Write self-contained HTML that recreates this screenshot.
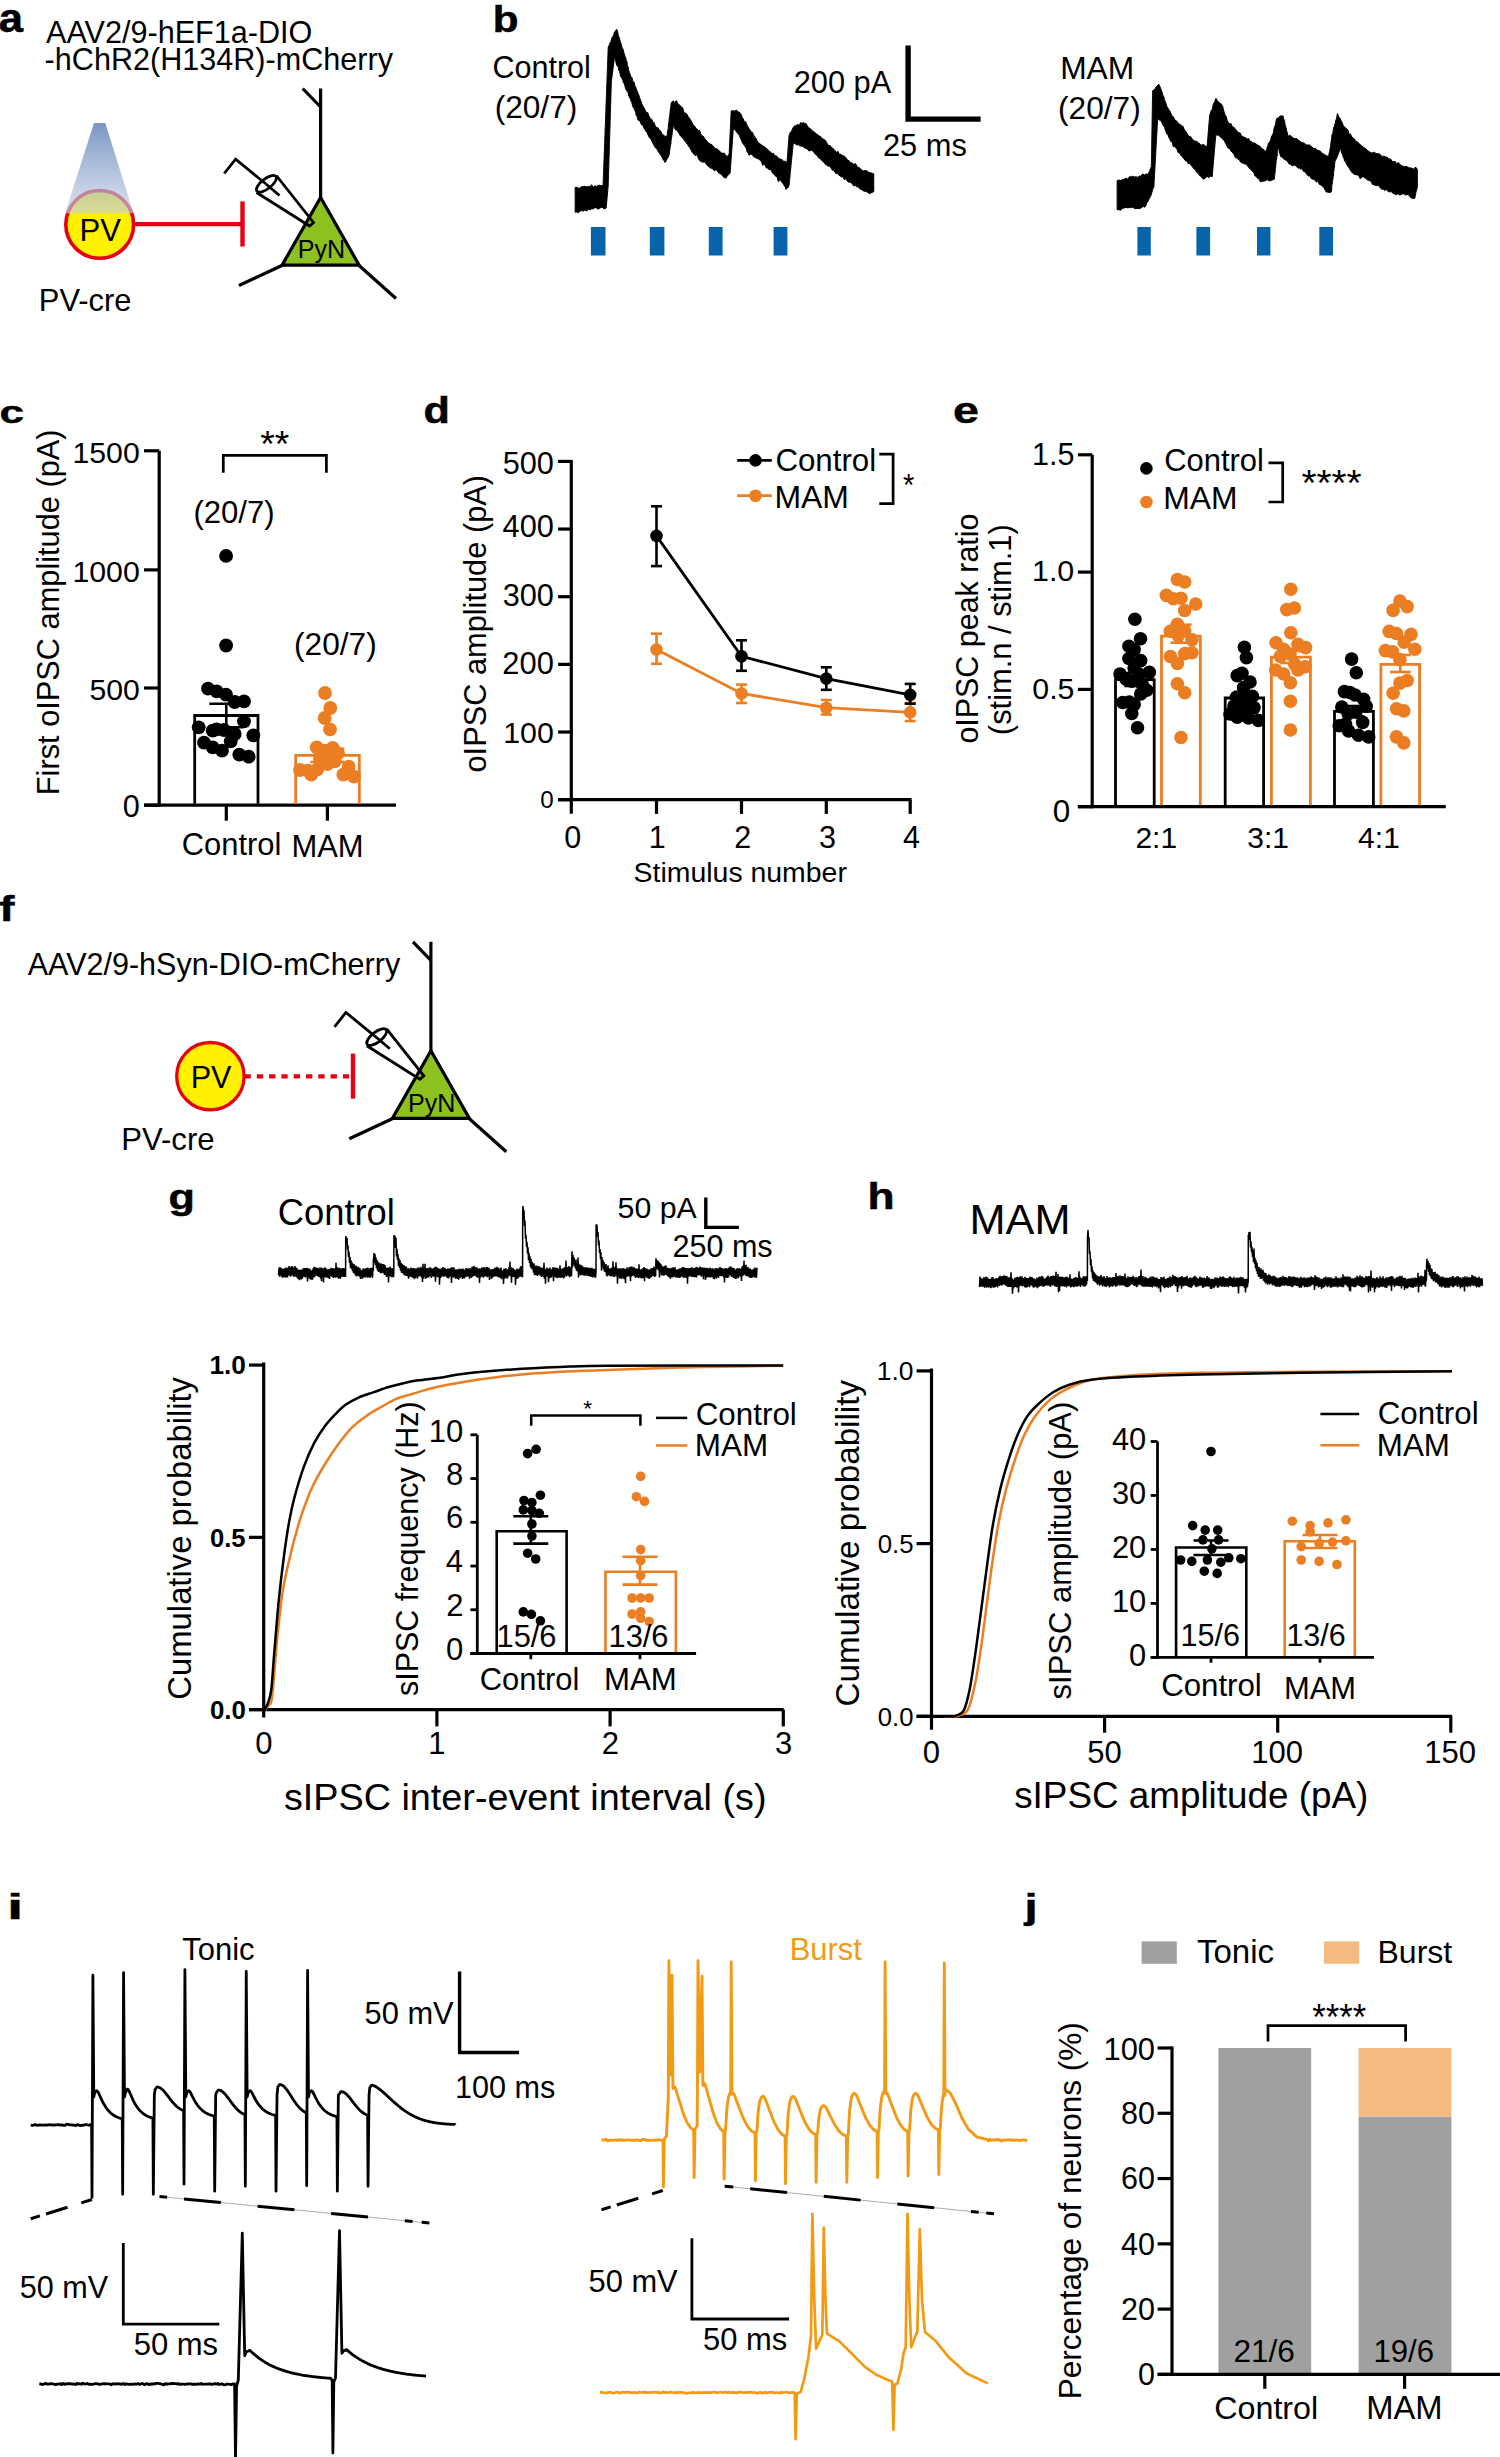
<!DOCTYPE html>
<html><head><meta charset="utf-8"><style>
html,body{margin:0;padding:0;background:#fff;}
svg{display:block;}
text{font-family:"Liberation Sans",sans-serif;}
</style></head><body>
<svg width="1500" height="2457" viewBox="0 0 1500 2457">
<rect width="1500" height="2457" fill="#fff"/>
<defs><linearGradient id="cone" x1="0" y1="0" x2="0" y2="1"><stop offset="0" stop-color="#6283B9"/><stop offset="1" stop-color="#C7D1E6" stop-opacity="0.75"/></linearGradient></defs><text transform="translate(-1.31,31.89) scale(0.04355,0.04055)" x="0" y="0" font-size="1000" font-weight="bold" fill="#000" stroke="#000" stroke-width="13.8">a</text><text x="46.00" y="43.00" font-size="30.60" fill="#000">AAV2/9-hEF1a-DIO</text><text x="44.62" y="70.00" font-size="30.59" fill="#000">-hChR2(H134R)-mCherry</text><circle cx="99.70" cy="224.40" r="33.9" fill="#FFF100" stroke="#E50012" stroke-width="3.6"/><text x="79.51" y="240.70" font-size="31.08" fill="#000">PV</text><polygon points="94.00,122.90 105.30,122.90 133.60,213.30 65.00,213.30" fill="url(#cone)" fill-opacity="0.85"/><line x1="134.00" y1="224.20" x2="242.50" y2="224.20" stroke="#E50012" stroke-width="4.2"/><line x1="242.50" y1="201.40" x2="242.50" y2="246.50" stroke="#E50012" stroke-width="4.4"/><line x1="320.60" y1="88.50" x2="320.60" y2="198.00" stroke="#000" stroke-width="3.2"/><line x1="302.70" y1="88.50" x2="320.60" y2="107.00" stroke="#000" stroke-width="3.2"/><line x1="283.00" y1="265.00" x2="239.00" y2="285.50" stroke="#000" stroke-width="3.2"/><line x1="358.50" y1="265.00" x2="396.00" y2="298.50" stroke="#000" stroke-width="3.2"/><polygon points="320.60,197.50 282.10,265.10 359.10,265.10" fill="#8CC11F" stroke="#000" stroke-width="3.2" stroke-linejoin="miter"/><polyline points="224.20,173.50 235.60,159.20 266.00,184.00" fill="none" stroke="#000" stroke-width="2.8" stroke-linejoin="miter"/><polyline points="276.30,175.50 313.50,222.50 309.50,226.00 256.50,192.50" fill="none" stroke="#000" stroke-width="2.8" stroke-linejoin="miter"/><ellipse cx="266.40" cy="183.80" rx="5" ry="12" transform="rotate(52 266.40 183.80)" fill="none" stroke="#000" stroke-width="2.8"/><line x1="266.00" y1="184.00" x2="279.50" y2="195.50" stroke="#000" stroke-width="2.8"/><text x="297.69" y="258.20" font-size="25.10" fill="#000">PyN</text><text x="38.83" y="310.70" font-size="30.85" fill="#000">PV-cre</text><text transform="translate(492.76,31.54) scale(0.04218,0.03646)" x="0" y="0" font-size="1000" font-weight="bold" fill="#000" stroke="#000" stroke-width="14.2">b</text><text x="492.47" y="78.40" font-size="30.53" fill="#000">Control</text><text x="494.70" y="117.80" font-size="31.61" fill="#000">(20/7)</text><text x="793.66" y="92.90" font-size="30.77" fill="#000">200 pA</text><text x="882.96" y="155.50" font-size="30.80" fill="#000">25 ms</text><polyline points="908.10,45.60 908.10,119.10 980.60,119.10" fill="none" stroke="#000" stroke-width="5.4" stroke-linecap="butt" stroke-linejoin="miter"/><polygon points="575.17,187.39 576.81,187.30 578.45,188.23 580.09,188.01 581.73,186.50 583.37,186.54 585.01,186.24 586.65,186.99 588.29,186.37 589.94,186.89 591.58,184.70 593.22,187.31 594.86,185.85 596.50,186.35 598.14,185.58 599.78,185.26 601.42,185.82 603.06,185.32 603.12,183.71 603.18,182.10 603.24,180.49 603.30,178.88 603.37,177.27 603.43,175.66 603.49,174.05 603.55,172.44 603.61,170.83 603.67,169.22 603.73,167.61 603.79,166.00 603.85,164.39 603.91,162.78 603.97,161.17 604.03,159.56 604.09,157.95 604.15,156.34 604.21,154.73 604.27,153.12 604.33,151.51 604.39,149.90 604.45,148.29 604.51,146.68 604.57,145.07 604.63,143.46 604.69,141.85 604.75,140.24 604.81,138.63 604.87,137.02 604.93,135.41 604.99,133.80 605.05,132.19 605.11,130.58 605.17,128.97 605.23,127.36 605.29,125.75 605.35,124.14 605.41,122.53 605.47,120.92 605.53,119.31 605.59,117.70 605.65,116.09 605.71,114.48 605.77,112.87 605.83,111.26 605.89,109.65 605.95,108.04 606.01,106.43 606.07,104.82 606.13,103.21 606.19,101.60 606.25,99.99 606.31,98.38 606.37,96.77 606.43,95.16 606.49,93.55 606.55,91.94 606.61,90.33 606.67,88.72 606.73,87.11 606.79,85.50 606.85,83.89 606.91,82.28 606.97,80.67 607.03,79.06 607.09,77.45 607.15,75.84 607.21,74.23 607.27,72.62 607.33,71.01 607.39,69.40 607.45,67.79 607.51,66.18 607.57,64.57 607.63,62.96 607.69,61.35 607.75,59.74 607.81,58.13 607.87,56.52 607.93,54.91 607.99,53.30 608.05,51.69 608.11,50.09 608.17,48.48 608.23,46.87 608.92,46.06 609.61,43.78 610.30,42.35 610.99,41.56 611.68,38.85 612.36,36.87 613.05,36.93 613.74,34.62 614.43,32.15 615.12,31.58 615.81,30.39 616.50,29.30 617.01,29.96 617.53,31.33 618.05,34.17 618.56,36.48 619.08,37.19 619.60,38.39 620.11,40.91 620.63,42.79 621.15,43.59 621.66,45.88 622.18,47.89 622.70,48.51 623.21,49.64 623.73,52.18 624.25,53.71 624.76,55.13 625.19,57.56 625.62,57.20 626.05,59.25 626.49,60.66 626.92,61.49 627.35,64.53 627.78,66.40 628.21,66.94 628.64,70.19 629.07,71.29 629.50,72.68 629.93,73.73 630.62,75.66 631.31,77.71 632.00,77.49 632.69,80.65 633.37,82.25 634.06,81.96 634.75,85.26 635.44,86.39 636.13,88.20 636.69,90.32 637.26,90.85 637.82,92.69 638.38,94.48 638.95,95.01 639.51,97.69 640.07,98.63 640.64,100.61 641.20,101.30 641.77,104.09 642.33,104.73 643.21,106.69 644.10,107.54 644.99,109.66 645.87,111.64 646.76,113.54 647.64,112.33 648.53,115.06 649.45,117.15 650.37,118.19 651.28,119.12 652.20,119.77 653.12,122.96 654.04,122.32 654.96,125.16 655.88,127.12 656.79,127.46 658.03,127.63 659.27,130.11 660.51,130.75 661.75,133.44 662.99,134.69 665.06,136.42 667.13,135.73 667.33,135.69 667.54,131.00 667.75,130.31 667.95,129.68 668.16,128.72 668.37,126.14 668.57,123.56 668.78,122.74 668.99,120.83 669.19,119.03 669.40,116.95 669.61,116.20 669.81,114.48 670.02,112.51 670.23,110.75 670.43,108.25 670.64,107.23 670.85,106.93 671.05,104.16 671.26,102.66 672.98,100.82 674.70,102.35 676.43,100.60 677.46,102.40 678.49,105.04 679.53,104.73 680.56,106.16 681.59,107.11 682.63,107.70 683.66,111.30 684.69,113.67 685.73,112.99 686.64,113.72 687.56,115.23 688.48,117.60 689.40,117.84 690.32,119.67 691.24,120.98 692.16,122.79 693.07,124.89 693.99,125.39 695.03,126.70 696.06,128.71 697.09,128.93 698.13,130.82 699.16,130.14 700.19,131.98 701.23,135.07 702.26,135.73 703.50,136.49 704.74,138.67 705.98,139.88 707.22,141.74 708.46,142.58 709.70,143.98 710.94,144.32 712.18,145.09 713.42,146.30 714.66,148.13 716.04,148.65 717.41,149.06 718.79,150.44 720.17,151.73 721.55,152.92 722.92,153.37 724.30,153.02 725.68,155.42 727.06,156.39 729.12,154.33 729.20,152.72 729.28,151.11 729.35,149.50 729.43,147.90 729.51,146.29 729.58,144.68 729.66,143.07 729.74,141.47 729.81,139.86 729.89,138.25 729.97,136.64 730.04,135.04 730.12,133.43 730.20,131.82 730.27,130.22 730.35,128.61 730.42,127.00 730.50,125.39 730.58,123.79 730.65,122.18 730.73,120.57 730.81,118.96 730.88,117.36 730.96,115.75 731.04,114.14 731.11,112.54 731.19,110.93 732.91,110.76 734.63,111.11 736.36,109.89 737.65,111.65 738.94,111.96 740.23,113.19 741.52,115.06 742.35,118.12 743.18,118.56 744.00,120.87 744.83,122.55 745.66,121.64 746.48,124.05 747.31,125.55 748.14,127.08 748.96,128.51 749.79,129.53 750.71,131.07 751.63,132.42 752.54,132.46 753.46,134.91 754.38,135.82 755.30,137.89 756.22,138.80 757.14,141.04 758.06,141.93 759.35,143.61 760.64,144.24 761.93,145.28 763.22,146.13 764.51,146.73 765.80,147.99 767.10,148.76 768.39,150.19 769.68,151.54 770.97,152.27 772.26,153.76 773.55,153.26 774.85,156.07 776.14,155.78 777.43,156.84 778.72,158.46 780.37,159.13 782.03,159.66 783.68,161.17 785.33,161.31 786.99,162.59 787.12,160.91 787.25,159.23 787.37,157.55 787.50,155.88 787.63,154.20 787.76,152.52 787.89,150.84 788.02,149.16 788.15,147.48 788.28,145.80 788.41,144.12 788.54,142.44 788.67,140.76 788.80,139.08 788.92,137.41 789.05,135.73 789.88,133.22 790.71,131.74 791.53,131.82 792.36,129.15 793.19,127.46 794.66,125.79 796.14,125.99 797.61,124.00 799.09,125.94 800.57,122.55 802.04,123.41 803.52,122.29 804.81,123.89 806.10,123.46 807.39,126.02 808.69,127.74 809.98,128.48 811.27,129.48 812.56,131.19 813.85,131.59 815.14,132.76 816.44,133.93 817.73,134.59 819.02,136.23 820.31,136.01 821.60,138.43 822.89,138.42 824.18,139.86 825.42,140.23 826.66,142.63 827.90,144.93 829.14,145.59 830.38,145.65 831.62,147.86 832.86,148.18 834.10,149.68 835.34,151.09 836.58,152.26 837.96,151.32 839.34,154.25 840.72,154.19 842.09,155.37 843.47,155.67 844.85,156.56 846.23,157.93 847.61,160.27 848.98,160.52 850.30,162.80 851.61,162.38 852.93,164.22 854.24,164.07 855.56,163.69 856.87,166.28 858.19,167.46 859.50,167.70 860.82,169.22 862.13,170.38 863.45,170.86 865.17,170.68 866.89,170.71 868.62,172.23 870.34,172.76 872.06,173.16 873.78,173.96 873.78,175.71 873.78,177.47 873.78,179.23 873.78,180.98 873.78,182.74 873.78,184.50 873.78,186.25 873.78,188.01 873.78,189.77 873.78,191.52 871.72,192.66 869.65,193.59 867.58,192.56 866.03,191.32 864.48,191.31 862.93,190.60 861.38,189.51 859.83,188.87 858.28,186.82 856.73,186.82 855.18,185.32 853.81,186.08 852.43,184.24 851.05,182.24 849.67,182.37 848.29,182.03 846.92,180.45 845.54,178.85 844.16,179.67 842.78,176.57 841.41,177.12 840.03,175.84 838.65,174.99 837.41,173.00 836.17,173.90 834.93,172.17 833.69,169.92 832.45,170.31 831.21,168.45 829.97,166.24 828.73,166.17 827.49,165.90 826.25,164.66 825.01,163.93 823.77,162.31 822.53,160.97 821.29,160.07 820.05,158.29 818.81,158.16 817.57,156.10 816.33,154.97 815.09,153.93 813.85,152.26 812.30,150.64 810.75,150.14 809.20,151.16 807.65,149.43 806.10,148.16 804.55,147.88 803.00,146.45 801.45,146.06 799.80,145.87 798.15,144.70 796.49,145.04 794.84,143.14 793.19,143.99 793.02,145.65 792.86,147.30 792.69,148.95 792.53,150.61 792.36,152.26 792.19,153.91 792.03,155.57 791.86,157.22 791.70,158.87 791.53,160.52 791.37,162.18 791.20,163.83 791.04,165.48 790.87,167.14 790.71,168.79 790.54,170.44 790.38,172.10 790.21,173.75 790.05,175.40 789.88,177.06 789.71,178.71 789.55,180.36 789.38,182.02 789.22,183.67 789.05,185.32 788.02,187.77 786.99,187.67 785.95,189.46 785.18,186.64 784.40,186.18 783.63,184.51 782.85,183.26 781.71,182.23 780.56,180.04 779.41,180.13 778.26,181.56 777.11,176.49 775.97,176.64 774.82,174.97 773.67,174.23 772.52,172.92 771.28,170.23 770.04,169.52 768.80,169.57 767.56,167.93 766.32,168.03 765.08,164.92 763.84,164.38 762.60,165.34 761.36,161.15 760.12,160.52 758.74,158.88 757.37,158.66 755.99,157.73 754.61,157.53 753.23,156.04 751.86,154.41 750.48,154.26 749.10,155.29 747.72,152.26 746.97,151.77 746.22,147.03 745.47,147.64 744.72,145.55 743.97,145.24 743.21,143.10 742.46,143.28 741.71,140.98 740.96,139.44 740.21,137.38 739.46,135.73 738.42,134.14 737.39,132.90 736.36,132.11 735.32,129.53 733.26,129.53 733.14,131.13 733.03,132.74 732.91,134.35 732.80,135.96 732.68,137.56 732.57,139.17 732.45,140.78 732.34,142.39 732.22,143.99 732.11,145.60 731.99,147.21 731.88,148.81 731.76,150.42 731.65,152.03 731.53,153.64 731.42,155.24 731.31,156.85 731.19,158.46 731.08,160.07 730.96,161.67 730.85,163.28 730.73,164.89 730.62,166.49 730.50,168.10 730.39,169.71 730.27,171.32 730.16,172.92 728.87,174.64 727.57,175.23 726.28,177.82 724.99,178.09 723.75,177.21 722.51,175.96 721.27,174.36 720.03,173.50 718.79,172.92 717.41,171.50 716.04,168.85 714.66,170.98 713.28,169.70 711.90,168.16 710.52,168.25 709.15,166.85 707.77,165.87 706.39,164.66 705.15,161.64 703.91,162.41 702.67,161.98 701.43,161.81 700.19,160.96 698.95,159.60 697.71,156.50 696.47,154.63 695.23,155.81 693.99,154.33 693.07,152.97 692.16,152.34 691.24,150.09 690.32,148.99 689.40,146.24 688.48,146.42 687.56,144.33 686.64,143.58 685.73,141.93 684.69,141.00 683.66,139.25 682.63,138.30 681.59,136.75 680.56,136.08 679.53,134.58 678.49,132.45 677.46,131.59 676.43,129.57 675.39,129.89 674.36,126.86 673.33,125.39 673.10,127.79 672.87,128.92 672.64,129.76 672.41,131.22 672.18,133.53 671.95,135.24 671.72,137.14 671.49,137.24 671.26,139.38 671.03,141.39 670.80,144.35 670.57,142.79 670.34,146.64 670.11,147.46 669.88,149.85 669.65,150.72 669.42,153.01 669.19,154.33 668.37,157.23 667.54,157.92 666.71,159.63 665.89,161.24 665.06,162.59 664.18,160.52 663.29,160.07 662.40,158.00 661.52,156.04 660.63,155.18 659.75,153.55 658.86,152.26 658.00,151.48 657.14,149.47 656.28,147.70 655.42,147.91 654.56,146.16 653.69,145.01 652.83,143.10 651.97,141.15 651.11,139.52 650.25,138.26 649.39,137.86 648.53,135.73 647.67,134.44 646.81,131.78 645.95,131.56 645.08,129.08 644.22,128.97 643.36,126.50 642.50,125.07 641.64,124.80 640.78,123.26 639.92,120.62 639.06,121.17 638.20,119.19 637.56,119.33 636.92,114.83 636.29,115.88 635.65,112.29 635.02,110.85 634.38,109.51 633.74,106.91 633.11,107.52 632.47,105.28 631.84,102.70 631.20,101.49 630.57,98.91 629.93,98.53 629.29,96.66 628.66,96.10 628.02,92.39 627.39,91.82 626.75,90.70 626.11,89.83 625.48,88.48 624.84,85.45 624.21,83.63 623.57,82.99 622.94,80.75 622.30,79.20 621.66,77.86 621.11,77.14 620.55,76.04 619.99,73.31 619.44,71.35 618.88,70.37 618.33,66.82 617.77,66.72 617.21,64.30 616.66,65.47 616.10,62.54 615.54,60.49 614.99,58.63 614.43,57.20 614.22,56.84 614.02,61.07 613.81,63.46 613.60,63.23 613.40,66.01 613.19,67.70 612.98,67.53 612.78,71.17 612.57,73.16 612.36,73.91 612.16,75.33 611.95,77.67 611.74,77.46 611.54,80.42 611.33,82.00 611.28,83.61 611.23,85.23 611.19,86.84 611.14,88.45 611.09,90.07 611.04,91.68 610.99,93.30 610.94,94.91 610.89,96.53 610.85,98.14 610.80,99.76 610.75,101.37 610.70,102.98 610.65,104.60 610.60,106.21 610.56,107.83 610.51,109.44 610.46,111.06 610.41,112.67 610.36,114.29 610.31,115.90 610.27,117.51 610.22,119.13 610.17,120.74 610.12,122.36 610.07,123.97 610.02,125.59 609.97,127.20 609.93,128.82 609.88,130.43 609.83,132.05 609.78,133.66 609.73,135.27 609.68,136.89 609.64,138.50 609.59,140.12 609.54,141.73 609.49,143.35 609.44,144.96 609.39,146.58 609.35,148.19 609.30,149.80 609.25,151.42 609.20,153.03 609.15,154.65 609.10,156.26 609.05,157.88 609.01,159.49 608.96,161.11 608.91,162.72 608.86,164.34 608.81,165.95 608.76,167.56 608.72,169.18 608.67,170.79 608.62,172.41 608.57,174.02 608.52,175.64 608.47,177.25 608.42,178.87 608.38,180.48 608.33,182.09 608.28,183.71 608.23,185.32 608.08,186.95 607.94,188.57 607.79,190.19 607.64,191.82 607.49,193.44 607.35,195.07 607.20,196.69 607.05,198.31 606.90,199.94 606.75,201.56 606.61,203.18 606.46,204.81 606.31,206.43 606.16,208.06 604.10,208.90 602.03,207.06 599.96,208.06 598.31,209.12 596.66,208.27 595.01,207.22 593.35,209.07 591.70,208.66 590.05,209.96 588.39,209.05 586.74,211.10 585.09,209.94 583.43,211.10 581.78,210.61 580.13,211.10 578.47,212.59 576.82,212.09 575.17,212.19 575.17,210.54 575.17,208.88 575.17,207.23 575.17,205.58 575.17,203.92 575.17,202.27 575.17,200.62 575.17,198.96 575.17,197.31 575.17,195.66 575.17,194.00 575.17,192.35 575.17,190.70 575.17,189.04" fill="#000" stroke="#000" stroke-width="1" stroke-linejoin="round"/><polygon points="1117.14,180.61 1118.91,180.10 1120.69,180.44 1122.46,179.69 1124.23,179.17 1126.01,178.08 1127.70,179.16 1129.39,176.69 1131.07,176.94 1132.76,176.18 1134.45,176.94 1136.14,176.81 1137.77,177.25 1139.40,176.07 1141.03,176.12 1142.66,173.84 1144.28,175.12 1145.91,173.92 1147.54,174.28 1148.30,174.18 1149.06,171.95 1149.82,170.48 1150.58,168.15 1151.34,166.68 1151.37,165.06 1151.40,163.44 1151.42,161.83 1151.45,160.21 1151.48,158.59 1151.50,156.98 1151.53,155.36 1151.56,153.74 1151.59,152.12 1151.61,150.51 1151.64,148.89 1151.67,147.27 1151.69,145.66 1151.72,144.04 1151.75,142.42 1151.77,140.80 1151.80,139.19 1151.83,137.57 1151.85,135.95 1151.88,134.34 1151.91,132.72 1151.94,131.10 1151.96,129.48 1151.99,127.87 1152.02,126.25 1152.04,124.63 1152.07,123.01 1152.10,121.40 1152.12,119.78 1152.15,118.16 1152.18,116.55 1152.21,114.93 1152.23,113.31 1152.26,111.69 1152.29,110.08 1152.31,108.46 1152.34,106.84 1152.37,105.23 1152.39,103.61 1152.42,101.99 1152.45,100.37 1152.47,98.76 1152.50,97.14 1152.53,95.52 1152.56,93.91 1152.58,92.29 1152.61,90.67 1153.88,89.89 1155.14,88.66 1156.41,86.60 1157.68,85.21 1158.94,84.34 1159.58,85.93 1160.21,87.23 1160.84,88.93 1161.48,90.87 1162.11,92.20 1162.74,94.47 1163.29,96.71 1163.83,96.45 1164.37,100.02 1164.92,100.49 1165.46,102.18 1166.00,103.16 1166.54,105.87 1167.39,107.16 1168.23,108.49 1169.08,110.25 1169.92,111.08 1170.77,112.99 1171.61,115.77 1172.46,116.05 1173.30,116.67 1174.14,118.54 1175.41,120.57 1176.68,120.97 1177.95,122.82 1179.21,124.10 1180.48,124.56 1181.75,126.14 1182.83,126.04 1183.92,128.76 1185.00,130.93 1186.09,131.63 1187.17,133.73 1188.26,135.61 1189.35,136.28 1190.87,136.85 1192.39,139.29 1193.91,140.61 1195.43,141.19 1196.95,141.34 1198.39,143.00 1199.84,143.67 1201.29,145.32 1202.74,144.39 1204.19,144.96 1205.63,146.17 1207.08,146.41 1207.21,144.81 1207.35,143.21 1207.48,141.61 1207.61,140.01 1207.75,138.41 1207.88,136.81 1208.01,135.21 1208.15,133.61 1208.28,132.01 1208.41,130.41 1208.55,128.81 1208.68,127.21 1208.81,125.61 1208.95,124.01 1209.08,122.41 1209.21,120.81 1209.35,119.21 1209.48,117.61 1209.61,116.01 1210.19,113.67 1210.77,111.54 1211.34,110.46 1211.92,109.86 1212.49,108.32 1213.07,105.10 1213.65,103.21 1214.22,102.86 1214.80,101.35 1215.37,99.85 1215.95,98.27 1217.00,100.08 1218.06,101.79 1219.12,102.26 1220.17,103.83 1221.23,103.73 1222.28,105.87 1222.79,106.45 1223.30,109.10 1223.80,110.96 1224.31,112.53 1224.82,113.95 1225.32,115.62 1225.83,117.16 1226.34,116.63 1226.84,118.97 1227.35,121.07 1228.62,122.71 1229.88,124.09 1231.15,123.66 1232.42,127.08 1233.68,127.06 1234.95,128.67 1236.22,129.76 1237.48,131.43 1238.75,133.08 1240.02,132.60 1241.28,135.80 1242.55,136.28 1244.07,137.35 1245.59,137.69 1247.11,139.10 1248.63,138.58 1250.15,141.34 1251.60,141.55 1253.05,142.94 1254.50,142.95 1255.94,143.98 1257.39,144.84 1258.84,145.72 1260.29,146.41 1261.55,148.49 1262.82,148.92 1264.09,150.00 1265.35,151.48 1265.99,150.43 1266.62,150.18 1267.25,146.77 1267.89,145.98 1268.52,142.83 1269.15,143.69 1269.79,141.66 1270.42,140.72 1271.05,138.13 1271.69,135.86 1272.32,135.93 1272.95,133.74 1273.38,132.66 1273.80,129.67 1274.22,127.50 1274.64,127.35 1275.07,125.16 1275.49,125.70 1275.91,121.43 1276.33,119.81 1276.75,118.54 1278.34,117.82 1279.92,115.94 1281.50,115.93 1283.09,116.01 1283.48,118.88 1283.87,119.02 1284.26,120.20 1284.65,121.23 1285.04,124.27 1285.43,125.89 1285.82,127.13 1286.21,128.17 1286.60,130.28 1286.99,131.90 1287.38,132.61 1287.77,135.21 1288.16,136.28 1289.84,135.22 1291.53,136.51 1293.22,137.93 1294.91,138.72 1296.60,138.51 1298.29,140.08 1299.87,141.13 1301.46,142.50 1303.04,142.81 1304.62,143.42 1306.21,144.70 1307.79,145.15 1309.37,144.70 1310.96,146.41 1312.37,147.09 1313.77,149.13 1315.18,148.03 1316.59,149.84 1318.00,150.32 1319.40,150.76 1320.81,151.51 1322.22,153.25 1323.63,154.01 1325.31,155.11 1327.00,155.95 1328.69,156.54 1328.96,153.76 1329.24,153.06 1329.51,151.93 1329.78,150.79 1330.05,148.94 1330.32,147.44 1330.59,146.02 1330.86,144.17 1331.14,141.23 1331.41,140.30 1331.68,138.06 1331.95,135.09 1332.22,134.03 1332.49,133.74 1332.88,133.85 1333.27,129.73 1333.66,127.27 1334.05,127.04 1334.44,127.16 1334.83,124.35 1335.22,123.15 1335.61,121.05 1336.00,119.64 1336.39,119.16 1336.78,117.23 1337.17,114.96 1337.56,113.47 1338.35,115.77 1339.14,117.50 1339.94,118.05 1340.73,120.02 1341.52,121.59 1342.31,122.44 1343.10,125.48 1343.89,126.14 1344.98,127.46 1346.07,128.54 1347.15,129.14 1348.24,130.92 1349.32,134.60 1350.41,133.92 1351.49,136.28 1352.76,137.89 1354.03,138.52 1355.30,140.49 1356.56,141.82 1357.83,141.99 1359.10,143.88 1360.54,144.73 1361.99,146.13 1363.44,147.23 1364.89,148.20 1366.33,149.05 1367.78,150.89 1369.23,151.48 1370.92,152.95 1372.61,152.75 1374.30,152.15 1375.99,153.48 1377.68,153.64 1379.36,154.01 1380.81,155.10 1382.26,156.93 1383.71,156.01 1385.16,156.90 1386.60,156.92 1388.05,158.12 1389.50,159.08 1390.95,159.35 1392.39,161.81 1393.84,161.49 1395.29,161.52 1396.74,164.24 1398.18,162.36 1399.63,164.14 1401.32,165.47 1403.01,166.22 1404.70,166.50 1406.39,166.47 1408.08,167.21 1409.77,167.95 1411.67,167.99 1413.57,169.21 1415.47,167.03 1417.37,169.21 1417.37,170.82 1417.37,172.44 1417.37,174.05 1417.37,175.66 1417.37,177.27 1417.37,178.89 1417.37,180.50 1417.37,182.11 1417.37,183.72 1417.37,185.33 1417.37,186.95 1417.01,188.17 1416.64,190.33 1416.28,191.37 1415.92,192.01 1415.56,194.90 1415.20,196.12 1414.83,198.35 1413.15,198.35 1411.46,198.20 1409.77,196.50 1408.08,194.27 1406.39,195.02 1404.70,194.55 1403.01,193.53 1401.32,194.53 1399.63,195.06 1397.94,193.68 1396.25,194.77 1394.57,194.07 1392.88,193.13 1391.19,191.61 1389.50,192.01 1387.91,191.39 1386.33,189.36 1384.75,190.56 1383.16,189.04 1381.58,189.25 1380.00,187.60 1378.41,185.03 1376.83,185.68 1375.38,185.41 1373.93,184.73 1372.49,184.41 1371.04,181.40 1369.59,180.54 1368.14,180.42 1366.70,179.35 1365.11,177.99 1363.53,177.09 1361.95,176.68 1360.36,179.00 1358.78,175.78 1357.20,174.83 1355.61,174.65 1354.03,174.28 1352.94,172.92 1351.86,172.50 1350.77,170.78 1349.69,169.20 1348.60,167.16 1347.51,165.80 1346.43,164.14 1345.79,162.20 1345.16,159.98 1344.53,161.30 1343.89,157.78 1343.26,157.43 1342.63,154.85 1341.99,153.51 1341.36,151.94 1340.73,149.44 1340.09,148.94 1339.46,150.54 1338.83,152.49 1338.19,154.43 1337.56,155.75 1336.93,157.75 1336.29,158.75 1335.66,160.10 1335.03,161.61 1334.83,161.71 1334.63,164.45 1334.43,167.72 1334.23,168.18 1334.03,170.32 1333.83,171.11 1333.63,172.34 1333.43,176.12 1333.23,176.37 1333.03,178.88 1332.83,179.70 1332.63,180.64 1332.43,180.68 1332.23,184.15 1332.03,184.43 1331.83,185.50 1331.63,189.87 1331.43,191.06 1331.23,192.01 1329.54,192.59 1327.85,192.12 1326.16,192.01 1325.31,190.36 1324.47,189.04 1323.63,186.95 1322.18,186.05 1320.73,184.90 1319.28,184.35 1317.83,180.70 1316.39,182.29 1314.94,179.99 1313.49,179.35 1312.22,179.08 1310.96,178.32 1309.69,175.69 1308.42,175.98 1307.16,174.96 1305.89,172.74 1304.62,171.86 1303.36,171.36 1302.09,168.46 1300.82,169.21 1299.38,168.15 1297.93,167.93 1296.48,166.69 1295.03,165.05 1293.58,165.29 1292.14,166.09 1290.69,164.14 1289.24,164.13 1287.79,161.88 1286.35,160.25 1284.90,159.79 1283.45,158.73 1282.00,157.09 1280.55,156.54 1280.13,154.59 1279.71,153.67 1279.29,152.23 1278.87,147.84 1278.44,148.89 1278.02,146.41 1277.83,148.17 1277.64,150.63 1277.45,151.34 1277.26,153.35 1277.07,155.96 1276.88,153.92 1276.69,159.21 1276.50,159.74 1276.31,159.78 1276.12,160.75 1275.93,164.78 1275.74,165.35 1275.55,168.62 1275.36,169.64 1275.17,171.01 1274.98,173.56 1274.79,174.56 1274.60,176.65 1274.41,178.37 1274.22,179.35 1272.48,179.92 1270.74,180.61 1269.00,180.93 1267.25,179.52 1265.51,180.71 1263.77,181.15 1262.03,181.26 1260.29,181.88 1259.20,179.16 1258.11,178.53 1257.03,177.81 1255.94,176.24 1254.86,175.86 1253.77,172.71 1252.69,171.75 1251.42,170.13 1250.15,168.75 1248.89,167.69 1247.62,166.20 1246.35,163.92 1245.08,164.14 1243.56,163.41 1242.04,162.91 1240.52,162.00 1239.00,159.22 1237.48,159.08 1236.40,157.48 1235.31,157.66 1234.23,154.65 1233.14,153.57 1232.06,151.72 1230.97,151.20 1229.88,148.94 1228.80,148.27 1227.71,147.91 1226.63,145.00 1225.54,143.51 1224.45,140.73 1223.37,139.93 1222.28,138.81 1221.02,137.23 1219.75,136.52 1218.48,134.72 1217.22,135.73 1215.95,133.74 1215.81,135.34 1215.67,136.93 1215.53,138.53 1215.39,140.12 1215.25,141.72 1215.10,143.31 1214.96,144.91 1214.82,146.50 1214.68,148.10 1214.54,149.69 1214.40,151.29 1214.26,152.88 1214.12,154.48 1213.98,156.08 1213.84,157.67 1213.70,159.27 1213.56,160.86 1213.42,162.46 1213.27,164.05 1213.13,165.65 1212.99,167.24 1212.85,168.84 1212.71,170.43 1212.57,172.03 1212.43,173.62 1212.29,175.22 1212.15,176.81 1210.46,176.18 1208.77,177.45 1207.08,176.44 1205.39,177.94 1203.70,179.19 1202.01,178.08 1200.93,176.16 1199.84,175.84 1198.76,174.23 1197.67,173.24 1196.59,172.08 1195.50,169.97 1194.41,169.21 1193.15,167.80 1191.88,166.21 1190.61,164.75 1189.35,163.16 1188.08,163.65 1186.81,161.02 1185.55,160.88 1184.28,159.08 1183.27,158.26 1182.25,155.75 1181.24,156.12 1180.23,153.32 1179.21,153.25 1178.20,152.64 1177.19,149.64 1176.17,148.20 1175.16,146.92 1174.14,146.41 1173.30,146.84 1172.46,143.29 1171.61,141.18 1170.77,141.43 1169.92,139.23 1169.08,137.94 1168.23,135.76 1167.39,133.37 1166.54,133.74 1165.91,131.57 1165.28,129.73 1164.64,127.69 1164.01,126.53 1163.38,125.06 1162.74,124.88 1162.11,123.21 1161.48,121.07 1159.58,120.21 1157.68,118.54 1157.59,120.17 1157.50,121.80 1157.41,123.43 1157.31,125.06 1157.22,126.68 1157.13,128.31 1157.04,129.94 1156.95,131.57 1156.86,133.20 1156.77,134.83 1156.68,136.46 1156.59,138.09 1156.50,139.71 1156.41,141.34 1156.32,142.97 1156.23,144.60 1156.14,146.23 1156.05,147.86 1155.96,149.49 1155.87,151.12 1155.78,152.74 1155.69,154.37 1155.60,156.00 1155.51,157.63 1155.41,159.26 1155.32,160.89 1155.23,162.52 1155.14,164.14 1155.05,165.77 1154.96,167.40 1154.87,169.03 1154.78,170.66 1154.69,172.29 1154.60,173.92 1154.51,175.55 1154.42,177.17 1154.33,178.80 1154.24,180.43 1154.15,182.06 1154.06,183.69 1153.97,185.32 1153.88,186.95 1153.24,188.20 1152.61,189.31 1151.98,192.24 1151.34,194.06 1150.71,196.19 1150.08,197.08 1149.35,198.50 1148.63,199.86 1147.90,201.66 1147.18,202.12 1146.46,203.67 1145.73,206.27 1145.01,207.22 1143.24,206.45 1141.46,207.65 1139.69,208.59 1137.91,208.41 1136.14,208.48 1134.45,208.61 1132.76,207.17 1131.07,207.74 1129.39,207.42 1127.70,207.91 1126.01,207.22 1124.23,208.06 1122.46,208.25 1120.69,210.26 1118.91,209.68 1117.14,209.75 1117.14,208.13 1117.14,206.51 1117.14,204.89 1117.14,203.27 1117.14,201.66 1117.14,200.04 1117.14,198.42 1117.14,196.80 1117.14,195.18 1117.14,193.56 1117.14,191.94 1117.14,190.33 1117.14,188.71 1117.14,187.09 1117.14,185.47 1117.14,183.85 1117.14,182.23" fill="#000" stroke="#000" stroke-width="1" stroke-linejoin="round"/><text x="1060.16" y="78.50" font-size="31.75" fill="#000">MAM</text><text x="1058.10" y="118.50" font-size="31.61" fill="#000">(20/7)</text><rect x="590.90" y="227.00" width="14.60" height="28.50" fill="#0764AB" stroke="none" stroke-width="0"/><rect x="649.80" y="227.00" width="14.60" height="28.50" fill="#0764AB" stroke="none" stroke-width="0"/><rect x="708.80" y="227.00" width="13.80" height="28.50" fill="#0764AB" stroke="none" stroke-width="0"/><rect x="773.60" y="227.00" width="13.80" height="28.50" fill="#0764AB" stroke="none" stroke-width="0"/><rect x="1137.40" y="227.00" width="13.40" height="28.50" fill="#0764AB" stroke="none" stroke-width="0"/><rect x="1196.40" y="227.00" width="13.70" height="28.50" fill="#0764AB" stroke="none" stroke-width="0"/><rect x="1257.00" y="227.00" width="13.40" height="28.50" fill="#0764AB" stroke="none" stroke-width="0"/><rect x="1319.30" y="227.00" width="13.70" height="28.50" fill="#0764AB" stroke="none" stroke-width="0"/><text transform="translate(-0.46,422.99) scale(0.04412,0.03145)" x="0" y="0" font-size="1000" font-weight="bold" fill="#000" stroke="#000" stroke-width="13.6">c</text><line x1="159.20" y1="450.80" x2="159.20" y2="806.80" stroke="#000" stroke-width="3.2"/><line x1="144.00" y1="805.20" x2="396.00" y2="805.20" stroke="#000" stroke-width="3.3"/><line x1="144.00" y1="450.80" x2="159.20" y2="450.80" stroke="#000" stroke-width="3.2"/><line x1="144.00" y1="569.90" x2="159.20" y2="569.90" stroke="#000" stroke-width="3.2"/><line x1="144.00" y1="688.00" x2="159.20" y2="688.00" stroke="#000" stroke-width="3.2"/><line x1="144.00" y1="805.20" x2="159.20" y2="805.20" stroke="#000" stroke-width="3.2"/><text x="72.43" y="463.30" font-size="30.26" fill="#000">1500</text><text x="72.43" y="581.50" font-size="30.26" fill="#000">1000</text><text x="89.49" y="699.60" font-size="30.19" fill="#000">500</text><text x="122.78" y="816.80" font-size="30.62" fill="#000">0</text><text transform="translate(59.20,795.16) rotate(-90)" x="0" y="0" font-size="30.76" fill="#000">First oIPSC amplitude (pA)</text><line x1="226.30" y1="805.00" x2="226.30" y2="820.70" stroke="#000" stroke-width="3.2"/><line x1="327.40" y1="805.00" x2="327.40" y2="820.70" stroke="#000" stroke-width="3.2"/><polyline points="194.70,803.80 194.70,715.50 258.00,715.50 258.00,803.80" fill="none" stroke="#000" stroke-width="2.8" stroke-linejoin="miter"/><polyline points="295.70,803.80 295.70,755.30 359.30,755.30 359.30,803.80" fill="none" stroke="#EB7D22" stroke-width="2.8" stroke-linejoin="miter"/><line x1="226.30" y1="703.70" x2="226.30" y2="727.30" stroke="#000" stroke-width="2.6"/><line x1="209.30" y1="703.70" x2="243.30" y2="703.70" stroke="#000" stroke-width="2.6"/><line x1="209.30" y1="727.30" x2="243.30" y2="727.30" stroke="#000" stroke-width="2.6"/><circle cx="226.10" cy="555.90" r="6.9" fill="#000"/><circle cx="226.10" cy="645.50" r="6.9" fill="#000"/><circle cx="208.00" cy="688.70" r="6.9" fill="#000"/><circle cx="216.70" cy="691.30" r="6.9" fill="#000"/><circle cx="226.00" cy="694.70" r="6.9" fill="#000"/><circle cx="234.70" cy="702.00" r="6.9" fill="#000"/><circle cx="244.00" cy="701.30" r="6.9" fill="#000"/><circle cx="244.00" cy="721.30" r="6.9" fill="#000"/><circle cx="198.70" cy="727.30" r="6.9" fill="#000"/><circle cx="212.70" cy="730.70" r="6.9" fill="#000"/><circle cx="224.00" cy="730.00" r="6.9" fill="#000"/><circle cx="234.70" cy="734.00" r="6.9" fill="#000"/><circle cx="253.30" cy="735.30" r="6.9" fill="#000"/><circle cx="204.00" cy="742.70" r="6.9" fill="#000"/><circle cx="212.70" cy="747.30" r="6.9" fill="#000"/><circle cx="222.00" cy="750.70" r="6.9" fill="#000"/><circle cx="230.70" cy="741.30" r="6.9" fill="#000"/><circle cx="239.30" cy="754.70" r="6.9" fill="#000"/><circle cx="248.70" cy="756.70" r="6.9" fill="#000"/><circle cx="216.70" cy="729.30" r="6.9" fill="#000"/><line x1="327.40" y1="748.70" x2="327.40" y2="762.00" stroke="#EB7D22" stroke-width="2.6"/><line x1="310.40" y1="748.70" x2="344.40" y2="748.70" stroke="#EB7D22" stroke-width="2.6"/><line x1="310.40" y1="762.00" x2="344.40" y2="762.00" stroke="#EB7D22" stroke-width="2.6"/><circle cx="325.00" cy="693.00" r="6.9" fill="#EB7D22"/><circle cx="330.30" cy="708.00" r="6.9" fill="#EB7D22"/><circle cx="324.70" cy="718.00" r="6.9" fill="#EB7D22"/><circle cx="330.00" cy="729.30" r="6.9" fill="#EB7D22"/><circle cx="316.70" cy="747.30" r="6.9" fill="#EB7D22"/><circle cx="324.00" cy="750.70" r="6.9" fill="#EB7D22"/><circle cx="332.70" cy="748.00" r="6.9" fill="#EB7D22"/><circle cx="338.00" cy="753.30" r="6.9" fill="#EB7D22"/><circle cx="327.30" cy="764.00" r="6.9" fill="#EB7D22"/><circle cx="300.00" cy="770.00" r="6.9" fill="#EB7D22"/><circle cx="308.00" cy="770.70" r="6.9" fill="#EB7D22"/><circle cx="311.30" cy="774.70" r="6.9" fill="#EB7D22"/><circle cx="317.30" cy="769.30" r="6.9" fill="#EB7D22"/><circle cx="348.70" cy="766.70" r="6.9" fill="#EB7D22"/><circle cx="343.30" cy="774.70" r="6.9" fill="#EB7D22"/><circle cx="354.00" cy="776.70" r="6.9" fill="#EB7D22"/><circle cx="334.70" cy="761.30" r="6.9" fill="#EB7D22"/><circle cx="320.00" cy="758.70" r="6.9" fill="#EB7D22"/><polyline points="223.30,472.70 223.30,455.30 326.40,455.30 326.40,472.70" fill="none" stroke="#000" stroke-width="2.7"/><text transform="translate(260.14,457.04) scale(0.03733,0.03629)" x="0" y="0" font-size="1000" fill="#000">**</text><text x="193.43" y="523.30" font-size="31.08" fill="#000">(20/7)</text><text x="294.10" y="655.00" font-size="31.61" fill="#000">(20/7)</text><text x="181.76" y="854.90" font-size="30.89" fill="#000">Control</text><text x="291.42" y="856.70" font-size="30.97" fill="#000">MAM</text><text transform="translate(423.47,422.62) scale(0.04317,0.03782)" x="0" y="0" font-size="1000" font-weight="bold" fill="#000" stroke="#000" stroke-width="13.9">d</text><line x1="571.30" y1="460.10" x2="571.30" y2="813.70" stroke="#000" stroke-width="3.2"/><line x1="558.10" y1="799.70" x2="911.50" y2="799.70" stroke="#000" stroke-width="3.2"/><line x1="558.10" y1="461.40" x2="571.30" y2="461.40" stroke="#000" stroke-width="3.2"/><line x1="558.10" y1="529.06" x2="571.30" y2="529.06" stroke="#000" stroke-width="3.2"/><line x1="558.10" y1="596.72" x2="571.30" y2="596.72" stroke="#000" stroke-width="3.2"/><line x1="558.10" y1="664.38" x2="571.30" y2="664.38" stroke="#000" stroke-width="3.2"/><line x1="558.10" y1="732.04" x2="571.30" y2="732.04" stroke="#000" stroke-width="3.2"/><line x1="558.10" y1="799.70" x2="571.30" y2="799.70" stroke="#000" stroke-width="3.2"/><text x="502.67" y="474.00" font-size="30.69" fill="#000">500</text><text x="502.59" y="536.70" font-size="30.75" fill="#000">400</text><text x="502.67" y="605.60" font-size="30.69" fill="#000">300</text><text x="502.36" y="674.40" font-size="30.89" fill="#000">200</text><text x="503.22" y="743.30" font-size="30.35" fill="#000">100</text><text x="540.13" y="808.20" font-size="24.17" fill="#000">0</text><line x1="656.50" y1="799.70" x2="656.50" y2="813.90" stroke="#000" stroke-width="3.2"/><line x1="741.50" y1="799.70" x2="741.50" y2="813.90" stroke="#000" stroke-width="3.2"/><line x1="826.30" y1="799.70" x2="826.30" y2="813.90" stroke="#000" stroke-width="3.2"/><line x1="910.20" y1="799.70" x2="910.20" y2="813.90" stroke="#000" stroke-width="3.2"/><text x="564.16" y="848.00" font-size="30.50" fill="#000">0</text><text x="648.78" y="848.00" font-size="30.50" fill="#000">1</text><text x="734.24" y="848.00" font-size="30.50" fill="#000">2</text><text x="819.04" y="848.00" font-size="30.50" fill="#000">3</text><text x="903.09" y="848.00" font-size="30.50" fill="#000">4</text><text x="633.62" y="882.20" font-size="28.43" fill="#000">Stimulus number</text><text transform="translate(485.50,772.53) rotate(-90)" x="0" y="0" font-size="30.78" fill="#000">oIPSC amplitude (pA)</text><polyline points="656.50,649.49 741.50,693.47 826.30,707.68 910.20,712.42" fill="none" stroke="#EB7D22" stroke-width="2.8"/><line x1="656.50" y1="633.70" x2="656.50" y2="663.80" stroke="#EB7D22" stroke-width="2.6"/><line x1="651.00" y1="633.70" x2="662.00" y2="633.70" stroke="#EB7D22" stroke-width="2.6"/><line x1="651.00" y1="663.80" x2="662.00" y2="663.80" stroke="#EB7D22" stroke-width="2.6"/><circle cx="656.50" cy="649.49" r="6.3" fill="#EB7D22"/><line x1="741.50" y1="684.60" x2="741.50" y2="703.00" stroke="#EB7D22" stroke-width="2.6"/><line x1="736.00" y1="684.60" x2="747.00" y2="684.60" stroke="#EB7D22" stroke-width="2.6"/><line x1="736.00" y1="703.00" x2="747.00" y2="703.00" stroke="#EB7D22" stroke-width="2.6"/><circle cx="741.50" cy="693.47" r="6.3" fill="#EB7D22"/><line x1="826.30" y1="700.00" x2="826.30" y2="714.50" stroke="#EB7D22" stroke-width="2.6"/><line x1="820.80" y1="700.00" x2="831.80" y2="700.00" stroke="#EB7D22" stroke-width="2.6"/><line x1="820.80" y1="714.50" x2="831.80" y2="714.50" stroke="#EB7D22" stroke-width="2.6"/><circle cx="826.30" cy="707.68" r="6.3" fill="#EB7D22"/><line x1="910.20" y1="703.00" x2="910.20" y2="721.00" stroke="#EB7D22" stroke-width="2.6"/><line x1="904.70" y1="703.00" x2="915.70" y2="703.00" stroke="#EB7D22" stroke-width="2.6"/><line x1="904.70" y1="721.00" x2="915.70" y2="721.00" stroke="#EB7D22" stroke-width="2.6"/><circle cx="910.20" cy="712.42" r="6.3" fill="#EB7D22"/><polyline points="656.50,535.83 741.50,656.26 826.30,678.59 910.20,694.83" fill="none" stroke="#000" stroke-width="2.8"/><line x1="656.50" y1="506.30" x2="656.50" y2="566.10" stroke="#000" stroke-width="2.6"/><line x1="651.00" y1="506.30" x2="662.00" y2="506.30" stroke="#000" stroke-width="2.6"/><line x1="651.00" y1="566.10" x2="662.00" y2="566.10" stroke="#000" stroke-width="2.6"/><circle cx="656.50" cy="535.83" r="6.3" fill="#000"/><line x1="741.50" y1="640.30" x2="741.50" y2="670.80" stroke="#000" stroke-width="2.6"/><line x1="736.00" y1="640.30" x2="747.00" y2="640.30" stroke="#000" stroke-width="2.6"/><line x1="736.00" y1="670.80" x2="747.00" y2="670.80" stroke="#000" stroke-width="2.6"/><circle cx="741.50" cy="656.26" r="6.3" fill="#000"/><line x1="826.30" y1="667.30" x2="826.30" y2="689.80" stroke="#000" stroke-width="2.6"/><line x1="820.80" y1="667.30" x2="831.80" y2="667.30" stroke="#000" stroke-width="2.6"/><line x1="820.80" y1="689.80" x2="831.80" y2="689.80" stroke="#000" stroke-width="2.6"/><circle cx="826.30" cy="678.59" r="6.3" fill="#000"/><line x1="910.20" y1="683.90" x2="910.20" y2="703.70" stroke="#000" stroke-width="2.6"/><line x1="904.70" y1="683.90" x2="915.70" y2="683.90" stroke="#000" stroke-width="2.6"/><line x1="904.70" y1="703.70" x2="915.70" y2="703.70" stroke="#000" stroke-width="2.6"/><circle cx="910.20" cy="694.83" r="6.3" fill="#000"/><line x1="737.20" y1="460.40" x2="771.80" y2="460.40" stroke="#000" stroke-width="2.8"/><circle cx="755.50" cy="460.40" r="6.3" fill="#000"/><line x1="737.20" y1="495.70" x2="771.80" y2="495.70" stroke="#EB7D22" stroke-width="2.8"/><circle cx="755.50" cy="495.70" r="6.3" fill="#EB7D22"/><text x="775.44" y="470.80" font-size="31.24" fill="#000">Control</text><text x="774.45" y="507.90" font-size="31.94" fill="#000">MAM</text><polyline points="879.30,454.10 893.10,454.10 893.10,503.70 879.30,503.70" fill="none" stroke="#000" stroke-width="2.7"/><text transform="translate(903.06,495.69) scale(0.02917,0.03143)" x="0" y="0" font-size="1000" fill="#000">*</text><text transform="translate(953.03,423.23) scale(0.04667,0.03745)" x="0" y="0" font-size="1000" font-weight="bold" fill="#000" stroke="#000" stroke-width="12.9">e</text><line x1="1092.20" y1="454.80" x2="1092.20" y2="808.20" stroke="#000" stroke-width="3.2"/><line x1="1077.90" y1="806.70" x2="1445.80" y2="806.70" stroke="#000" stroke-width="3.2"/><line x1="1077.90" y1="454.80" x2="1092.20" y2="454.80" stroke="#000" stroke-width="3.2"/><line x1="1077.90" y1="572.10" x2="1092.20" y2="572.10" stroke="#000" stroke-width="3.2"/><line x1="1077.90" y1="689.40" x2="1092.20" y2="689.40" stroke="#000" stroke-width="3.2"/><line x1="1077.90" y1="806.70" x2="1092.20" y2="806.70" stroke="#000" stroke-width="3.2"/><text x="1032.01" y="464.60" font-size="30.51" fill="#000">1.5</text><text x="1032.02" y="581.30" font-size="30.39" fill="#000">1.0</text><text x="1032.29" y="699.00" font-size="30.31" fill="#000">0.5</text><text x="1052.84" y="821.70" font-size="31.46" fill="#000">0</text><text x="1135.38" y="848.40" font-size="30.00" fill="#000">2:1</text><text x="1247.22" y="848.40" font-size="30.00" fill="#000">3:1</text><text x="1358.12" y="848.40" font-size="30.00" fill="#000">4:1</text><text transform="translate(977.60,743.62) rotate(-90)" x="0" y="0" font-size="30.44" fill="#000">oIPSC peak ratio</text><text transform="translate(1010.80,735.15) rotate(-90)" x="0" y="0" font-size="30.86" fill="#000">(stim.n / stim.1)</text><polyline points="1115.50,805.30 1115.50,679.70 1154.20,679.70 1154.20,805.30" fill="none" stroke="#000" stroke-width="2.8" stroke-linejoin="miter"/><polyline points="1161.50,805.30 1161.50,636.10 1200.30,636.10 1200.30,805.30" fill="none" stroke="#EB7D22" stroke-width="2.8" stroke-linejoin="miter"/><polyline points="1225.20,805.30 1225.20,698.00 1263.60,698.00 1263.60,805.30" fill="none" stroke="#000" stroke-width="2.8" stroke-linejoin="miter"/><polyline points="1271.40,805.30 1271.40,657.20 1310.40,657.20 1310.40,805.30" fill="none" stroke="#EB7D22" stroke-width="2.8" stroke-linejoin="miter"/><polyline points="1334.50,805.30 1334.50,711.30 1373.40,711.30 1373.40,805.30" fill="none" stroke="#000" stroke-width="2.8" stroke-linejoin="miter"/><polyline points="1380.90,805.30 1380.90,664.40 1419.60,664.40 1419.60,805.30" fill="none" stroke="#EB7D22" stroke-width="2.8" stroke-linejoin="miter"/><line x1="1134.80" y1="673.00" x2="1134.80" y2="686.00" stroke="#000" stroke-width="2.6"/><line x1="1124.30" y1="673.00" x2="1145.30" y2="673.00" stroke="#000" stroke-width="2.6"/><line x1="1124.30" y1="686.00" x2="1145.30" y2="686.00" stroke="#000" stroke-width="2.6"/><line x1="1181.00" y1="624.70" x2="1181.00" y2="642.70" stroke="#EB7D22" stroke-width="2.6"/><line x1="1170.50" y1="624.70" x2="1191.50" y2="624.70" stroke="#EB7D22" stroke-width="2.6"/><line x1="1170.50" y1="642.70" x2="1191.50" y2="642.70" stroke="#EB7D22" stroke-width="2.6"/><line x1="1244.40" y1="692.00" x2="1244.40" y2="704.00" stroke="#000" stroke-width="2.6"/><line x1="1233.90" y1="692.00" x2="1254.90" y2="692.00" stroke="#000" stroke-width="2.6"/><line x1="1233.90" y1="704.00" x2="1254.90" y2="704.00" stroke="#000" stroke-width="2.6"/><line x1="1290.80" y1="651.00" x2="1290.80" y2="663.00" stroke="#EB7D22" stroke-width="2.6"/><line x1="1280.30" y1="651.00" x2="1301.30" y2="651.00" stroke="#EB7D22" stroke-width="2.6"/><line x1="1280.30" y1="663.00" x2="1301.30" y2="663.00" stroke="#EB7D22" stroke-width="2.6"/><line x1="1354.00" y1="706.00" x2="1354.00" y2="716.50" stroke="#000" stroke-width="2.6"/><line x1="1343.50" y1="706.00" x2="1364.50" y2="706.00" stroke="#000" stroke-width="2.6"/><line x1="1343.50" y1="716.50" x2="1364.50" y2="716.50" stroke="#000" stroke-width="2.6"/><line x1="1400.30" y1="655.00" x2="1400.30" y2="672.00" stroke="#EB7D22" stroke-width="2.6"/><line x1="1389.80" y1="655.00" x2="1410.80" y2="655.00" stroke="#EB7D22" stroke-width="2.6"/><line x1="1389.80" y1="672.00" x2="1410.80" y2="672.00" stroke="#EB7D22" stroke-width="2.6"/><circle cx="1134.90" cy="619.30" r="6.8" fill="#000"/><circle cx="1140.50" cy="638.80" r="6.8" fill="#000"/><circle cx="1128.90" cy="646.30" r="6.8" fill="#000"/><circle cx="1134.20" cy="649.60" r="6.8" fill="#000"/><circle cx="1128.90" cy="658.50" r="6.8" fill="#000"/><circle cx="1140.70" cy="660.60" r="6.8" fill="#000"/><circle cx="1134.20" cy="668.30" r="6.8" fill="#000"/><circle cx="1120.00" cy="674.00" r="6.8" fill="#000"/><circle cx="1149.30" cy="672.40" r="6.8" fill="#000"/><circle cx="1126.10" cy="679.30" r="6.8" fill="#000"/><circle cx="1131.80" cy="681.30" r="6.8" fill="#000"/><circle cx="1142.30" cy="684.60" r="6.8" fill="#000"/><circle cx="1146.80" cy="690.30" r="6.8" fill="#000"/><circle cx="1140.70" cy="694.00" r="6.8" fill="#000"/><circle cx="1122.80" cy="702.50" r="6.8" fill="#000"/><circle cx="1129.30" cy="702.10" r="6.8" fill="#000"/><circle cx="1134.20" cy="704.50" r="6.8" fill="#000"/><circle cx="1131.80" cy="713.50" r="6.8" fill="#000"/><circle cx="1137.50" cy="727.80" r="6.8" fill="#000"/><circle cx="1139.00" cy="674.00" r="6.8" fill="#000"/><circle cx="1244.40" cy="647.20" r="6.8" fill="#000"/><circle cx="1246.40" cy="657.60" r="6.8" fill="#000"/><circle cx="1242.00" cy="673.20" r="6.8" fill="#000"/><circle cx="1237.20" cy="675.60" r="6.8" fill="#000"/><circle cx="1250.00" cy="682.00" r="6.8" fill="#000"/><circle cx="1243.60" cy="687.60" r="6.8" fill="#000"/><circle cx="1236.40" cy="697.20" r="6.8" fill="#000"/><circle cx="1252.40" cy="696.40" r="6.8" fill="#000"/><circle cx="1243.60" cy="699.60" r="6.8" fill="#000"/><circle cx="1254.00" cy="707.60" r="6.8" fill="#000"/><circle cx="1230.00" cy="714.00" r="6.8" fill="#000"/><circle cx="1237.20" cy="717.20" r="6.8" fill="#000"/><circle cx="1248.40" cy="718.00" r="6.8" fill="#000"/><circle cx="1258.40" cy="720.40" r="6.8" fill="#000"/><circle cx="1242.80" cy="710.00" r="6.8" fill="#000"/><circle cx="1234.00" cy="706.00" r="6.8" fill="#000"/><circle cx="1351.60" cy="659.10" r="6.8" fill="#000"/><circle cx="1356.30" cy="672.80" r="6.8" fill="#000"/><circle cx="1344.40" cy="691.60" r="6.8" fill="#000"/><circle cx="1349.90" cy="692.50" r="6.8" fill="#000"/><circle cx="1355.00" cy="695.00" r="6.8" fill="#000"/><circle cx="1363.60" cy="699.30" r="6.8" fill="#000"/><circle cx="1341.80" cy="707.00" r="6.8" fill="#000"/><circle cx="1366.20" cy="706.20" r="6.8" fill="#000"/><circle cx="1348.20" cy="713.80" r="6.8" fill="#000"/><circle cx="1355.90" cy="712.10" r="6.8" fill="#000"/><circle cx="1362.70" cy="722.40" r="6.8" fill="#000"/><circle cx="1339.20" cy="725.80" r="6.8" fill="#000"/><circle cx="1348.60" cy="731.00" r="6.8" fill="#000"/><circle cx="1358.50" cy="735.20" r="6.8" fill="#000"/><circle cx="1368.70" cy="736.90" r="6.8" fill="#000"/><circle cx="1345.60" cy="724.10" r="6.8" fill="#000"/><circle cx="1177.40" cy="579.50" r="6.8" fill="#EB7D22"/><circle cx="1184.70" cy="582.00" r="6.8" fill="#EB7D22"/><circle cx="1166.40" cy="595.40" r="6.8" fill="#EB7D22"/><circle cx="1173.30" cy="598.70" r="6.8" fill="#EB7D22"/><circle cx="1181.00" cy="598.30" r="6.8" fill="#EB7D22"/><circle cx="1195.70" cy="604.00" r="6.8" fill="#EB7D22"/><circle cx="1184.70" cy="610.50" r="6.8" fill="#EB7D22"/><circle cx="1177.40" cy="624.30" r="6.8" fill="#EB7D22"/><circle cx="1170.40" cy="631.30" r="6.8" fill="#EB7D22"/><circle cx="1184.70" cy="630.80" r="6.8" fill="#EB7D22"/><circle cx="1192.00" cy="639.80" r="6.8" fill="#EB7D22"/><circle cx="1178.20" cy="635.70" r="6.8" fill="#EB7D22"/><circle cx="1170.40" cy="656.50" r="6.8" fill="#EB7D22"/><circle cx="1184.70" cy="653.60" r="6.8" fill="#EB7D22"/><circle cx="1192.00" cy="652.80" r="6.8" fill="#EB7D22"/><circle cx="1177.40" cy="663.40" r="6.8" fill="#EB7D22"/><circle cx="1177.40" cy="683.80" r="6.8" fill="#EB7D22"/><circle cx="1184.70" cy="692.70" r="6.8" fill="#EB7D22"/><circle cx="1181.00" cy="737.50" r="6.8" fill="#EB7D22"/><circle cx="1290.80" cy="589.20" r="6.8" fill="#EB7D22"/><circle cx="1286.80" cy="609.60" r="6.8" fill="#EB7D22"/><circle cx="1294.40" cy="608.00" r="6.8" fill="#EB7D22"/><circle cx="1290.80" cy="632.80" r="6.8" fill="#EB7D22"/><circle cx="1276.00" cy="642.80" r="6.8" fill="#EB7D22"/><circle cx="1298.00" cy="644.40" r="6.8" fill="#EB7D22"/><circle cx="1305.60" cy="647.60" r="6.8" fill="#EB7D22"/><circle cx="1283.60" cy="649.20" r="6.8" fill="#EB7D22"/><circle cx="1280.40" cy="656.40" r="6.8" fill="#EB7D22"/><circle cx="1290.00" cy="654.00" r="6.8" fill="#EB7D22"/><circle cx="1275.60" cy="670.00" r="6.8" fill="#EB7D22"/><circle cx="1283.60" cy="674.00" r="6.8" fill="#EB7D22"/><circle cx="1298.00" cy="670.00" r="6.8" fill="#EB7D22"/><circle cx="1305.20" cy="666.80" r="6.8" fill="#EB7D22"/><circle cx="1290.40" cy="682.80" r="6.8" fill="#EB7D22"/><circle cx="1290.40" cy="701.20" r="6.8" fill="#EB7D22"/><circle cx="1290.40" cy="730.00" r="6.8" fill="#EB7D22"/><circle cx="1294.80" cy="664.40" r="6.8" fill="#EB7D22"/><circle cx="1399.90" cy="601.00" r="6.8" fill="#EB7D22"/><circle cx="1407.20" cy="606.60" r="6.8" fill="#EB7D22"/><circle cx="1393.10" cy="610.40" r="6.8" fill="#EB7D22"/><circle cx="1389.20" cy="631.40" r="6.8" fill="#EB7D22"/><circle cx="1396.50" cy="633.50" r="6.8" fill="#EB7D22"/><circle cx="1411.00" cy="634.40" r="6.8" fill="#EB7D22"/><circle cx="1404.20" cy="642.10" r="6.8" fill="#EB7D22"/><circle cx="1385.40" cy="650.60" r="6.8" fill="#EB7D22"/><circle cx="1392.60" cy="651.90" r="6.8" fill="#EB7D22"/><circle cx="1414.90" cy="649.30" r="6.8" fill="#EB7D22"/><circle cx="1399.90" cy="659.60" r="6.8" fill="#EB7D22"/><circle cx="1407.20" cy="680.50" r="6.8" fill="#EB7D22"/><circle cx="1399.90" cy="683.10" r="6.8" fill="#EB7D22"/><circle cx="1393.10" cy="693.30" r="6.8" fill="#EB7D22"/><circle cx="1396.50" cy="708.70" r="6.8" fill="#EB7D22"/><circle cx="1403.80" cy="710.90" r="6.8" fill="#EB7D22"/><circle cx="1396.50" cy="736.90" r="6.8" fill="#EB7D22"/><circle cx="1403.80" cy="742.90" r="6.8" fill="#EB7D22"/><circle cx="1146.40" cy="468.40" r="6.3" fill="#000"/><circle cx="1146.40" cy="502.00" r="6.3" fill="#EB7D22"/><text x="1164.25" y="471.40" font-size="30.92" fill="#000">Control</text><text x="1163.25" y="509.40" font-size="31.84" fill="#000">MAM</text><polyline points="1268.50,462.80 1282.70,462.80 1282.70,502.00 1268.50,502.00" fill="none" stroke="#000" stroke-width="2.7"/><text transform="translate(1301.42,495.63) scale(0.03869,0.03714)" x="0" y="0" font-size="1000" fill="#000">****</text><text transform="translate(-0.68,921.20) scale(0.04562,0.03586)" x="0" y="0" font-size="1000" font-weight="bold" fill="#000" stroke="#000" stroke-width="13.2">f</text><text x="27.70" y="974.90" font-size="30.53" fill="#000">AAV2/9-hSyn-DIO-mCherry</text><circle cx="210.40" cy="1076.20" r="33.7" fill="#FFF100" stroke="#E50012" stroke-width="3.3"/><text x="190.65" y="1088.10" font-size="30.60" fill="#000">PV</text><line x1="244.50" y1="1076.30" x2="349.00" y2="1076.30" stroke="#E50012" stroke-width="4.2" stroke-dasharray="6.3,6"/><line x1="353.00" y1="1053.60" x2="353.00" y2="1098.70" stroke="#E50012" stroke-width="4.4"/><line x1="430.90" y1="941.80" x2="430.90" y2="1051.30" stroke="#000" stroke-width="3.2"/><line x1="413.00" y1="941.80" x2="430.90" y2="960.30" stroke="#000" stroke-width="3.2"/><line x1="393.30" y1="1118.30" x2="349.30" y2="1138.80" stroke="#000" stroke-width="3.2"/><line x1="468.80" y1="1118.30" x2="506.30" y2="1151.80" stroke="#000" stroke-width="3.2"/><polygon points="430.90,1050.80 392.40,1118.40 469.40,1118.40" fill="#8CC11F" stroke="#000" stroke-width="3.2" stroke-linejoin="miter"/><polyline points="334.50,1026.80 345.90,1012.50 376.30,1037.30" fill="none" stroke="#000" stroke-width="2.8" stroke-linejoin="miter"/><polyline points="386.60,1028.80 423.80,1075.80 419.80,1079.30 366.80,1045.80" fill="none" stroke="#000" stroke-width="2.8" stroke-linejoin="miter"/><ellipse cx="376.70" cy="1037.10" rx="5" ry="12" transform="rotate(52 376.70 1037.10)" fill="none" stroke="#000" stroke-width="2.8"/><line x1="376.30" y1="1037.30" x2="389.80" y2="1048.80" stroke="#000" stroke-width="2.8"/><text x="407.99" y="1111.50" font-size="25.10" fill="#000">PyN</text><text x="121.21" y="1150.00" font-size="31.13" fill="#000">PV-cre</text><text transform="translate(168.47,1208.82) scale(0.04317,0.03560)" x="0" y="0" font-size="1000" font-weight="bold" fill="#000" stroke="#000" stroke-width="13.9">g</text><text x="277.68" y="1224.80" font-size="36.39" fill="#000">Control</text><path d="M278.50,1275.15 L279.00,1267.73 L279.50,1276.74 L280.00,1267.03 L280.50,1275.21 L281.00,1267.94 L281.50,1276.82 L282.00,1268.59 L282.50,1277.81 L283.00,1269.24 L283.50,1277.09 L284.00,1268.61 L284.50,1277.31 L285.00,1268.28 L285.50,1277.74 L286.00,1267.48 L286.50,1277.09 L287.00,1267.74 L287.50,1277.55 L288.00,1268.19 L288.50,1275.12 L289.00,1265.97 L289.50,1275.69 L290.00,1267.55 L290.50,1276.73 L291.00,1266.73 L291.50,1275.83 L292.00,1266.08 L292.50,1274.90 L293.00,1266.87 L293.50,1276.39 L294.00,1268.70 L294.50,1276.85 L295.00,1266.06 L295.50,1275.66 L296.00,1267.65 L296.50,1277.01 L297.00,1268.28 L297.50,1278.41 L298.00,1270.12 L298.50,1279.13 L299.00,1269.52 L299.50,1280.11 L300.00,1269.96 L300.50,1279.13 L301.00,1269.45 L301.50,1279.35 L302.00,1270.31 L302.50,1278.44 L303.00,1268.57 L303.50,1276.69 L304.00,1268.08 L304.50,1276.92 L305.00,1267.95 L305.50,1277.39 L306.00,1268.08 L306.50,1276.28 L307.00,1267.74 L307.50,1281.40 L308.00,1268.66 L308.50,1276.96 L309.00,1268.28 L309.50,1278.59 L310.00,1269.01 L310.50,1279.41 L311.00,1270.35 L311.50,1279.67 L312.00,1270.43 L312.50,1279.62 L313.00,1268.43 L313.50,1277.09 L314.00,1266.77 L314.50,1277.42 L315.00,1267.19 L315.50,1275.79 L316.00,1267.46 L316.50,1275.36 L317.00,1267.95 L317.50,1276.31 L318.00,1267.85 L318.50,1276.79 L319.00,1268.88 L319.50,1277.06 L320.00,1267.48 L320.50,1278.38 L321.00,1267.60 L321.50,1281.17 L322.00,1268.13 L322.50,1277.22 L323.00,1268.48 L323.50,1282.46 L324.00,1268.14 L324.50,1276.70 L325.00,1267.24 L325.50,1277.55 L326.00,1268.28 L326.50,1277.56 L327.00,1269.22 L327.50,1277.60 L328.00,1269.91 L328.50,1278.01 L329.00,1269.14 L329.50,1278.92 L330.00,1269.39 L330.50,1276.20 L331.00,1267.86 L331.50,1276.43 L332.00,1268.04 L332.50,1277.25 L333.00,1268.52 L333.50,1278.06 L334.00,1268.41 L334.50,1276.90 L335.00,1268.62 L335.50,1277.60 L336.00,1262.66 L336.50,1277.19 L337.00,1267.15 L337.50,1277.42 L338.00,1268.21 L338.50,1278.76 L339.00,1267.69 L339.50,1278.11 L340.00,1268.00 L340.50,1278.66 L341.00,1268.99 L341.50,1276.75 L342.00,1268.22 L342.50,1276.57 L343.00,1268.02 L343.50,1276.93 L344.00,1268.42 L344.50,1276.92 L345.00,1268.30 L345.50,1276.88 L345.60,1273.21 L345.70,1239.70 L346.00,1235.99 L346.50,1244.43 L347.00,1237.68 L347.50,1249.39 L348.00,1245.26 L348.50,1257.20 L349.00,1251.56 L349.50,1262.89 L350.00,1256.87 L350.50,1267.88 L351.00,1260.32 L351.50,1269.00 L352.00,1262.17 L352.50,1271.24 L353.00,1264.35 L353.50,1272.89 L354.00,1263.83 L354.50,1273.60 L355.00,1265.74 L355.50,1275.43 L356.00,1265.42 L356.50,1276.49 L357.00,1267.15 L357.50,1275.74 L358.00,1266.69 L358.50,1275.91 L359.00,1267.87 L359.50,1276.83 L360.00,1268.17 L360.50,1279.02 L361.00,1269.82 L361.50,1278.21 L362.00,1271.08 L362.50,1278.63 L363.00,1268.52 L363.50,1277.52 L364.00,1268.61 L364.50,1277.28 L365.00,1268.95 L365.50,1277.45 L366.00,1268.19 L366.50,1276.24 L367.00,1267.71 L367.50,1277.69 L368.00,1267.72 L368.50,1277.08 L369.00,1269.49 L369.50,1277.64 L370.00,1267.92 L370.50,1277.78 L371.00,1267.72 L371.50,1275.93 L372.00,1267.99 L372.50,1277.66 L373.00,1267.18 L373.30,1270.93 L373.40,1258.70 L373.50,1262.32 L374.00,1253.03 L374.50,1262.98 L375.00,1253.95 L375.50,1265.25 L376.00,1257.58 L376.50,1268.31 L377.00,1260.03 L377.50,1270.44 L378.00,1261.68 L378.50,1271.85 L379.00,1262.91 L379.50,1271.73 L380.00,1263.63 L380.50,1273.21 L381.00,1263.25 L381.50,1273.33 L382.00,1264.41 L382.50,1272.56 L383.00,1264.10 L383.50,1273.12 L384.00,1264.24 L384.50,1275.04 L385.00,1264.92 L385.50,1274.88 L386.00,1267.57 L386.50,1277.01 L387.00,1267.94 L387.50,1275.97 L388.00,1267.47 L388.50,1282.59 L389.00,1267.91 L389.50,1276.00 L390.00,1266.61 L390.50,1276.45 L391.00,1268.37 L391.50,1277.14 L392.00,1267.96 L392.50,1276.85 L393.00,1268.72 L393.50,1277.32 L393.80,1273.54 L393.90,1239.70 L394.00,1235.06 L394.50,1244.32 L395.00,1235.66 L395.50,1247.91 L396.00,1237.66 L396.50,1256.52 L397.00,1248.68 L397.50,1259.96 L398.00,1254.08 L398.50,1265.92 L399.00,1258.17 L399.50,1267.82 L400.00,1259.95 L400.50,1270.76 L401.00,1262.72 L401.50,1272.78 L402.00,1263.77 L402.50,1273.04 L403.00,1264.73 L403.50,1274.53 L404.00,1265.36 L404.50,1275.37 L405.00,1266.50 L405.50,1275.36 L406.00,1266.33 L406.50,1275.98 L407.00,1269.19 L407.50,1276.12 L408.00,1267.72 L408.50,1278.70 L409.00,1268.99 L409.50,1276.77 L410.00,1268.54 L410.50,1276.80 L411.00,1267.50 L411.50,1276.92 L412.00,1268.46 L412.50,1277.78 L413.00,1268.09 L413.50,1277.84 L414.00,1268.13 L414.50,1279.30 L415.00,1269.14 L415.50,1278.08 L416.00,1268.35 L416.50,1276.88 L417.00,1268.57 L417.50,1278.62 L418.00,1267.64 L418.50,1276.38 L419.00,1267.43 L419.50,1276.41 L420.00,1268.65 L420.50,1275.95 L421.00,1266.81 L421.50,1277.43 L422.00,1268.21 L422.50,1281.97 L423.00,1263.73 L423.50,1278.44 L424.00,1267.85 L424.50,1276.81 L425.00,1263.80 L425.50,1278.94 L426.00,1269.06 L426.50,1277.89 L427.00,1267.96 L427.50,1277.11 L428.00,1267.76 L428.50,1277.71 L429.00,1269.16 L429.50,1276.11 L430.00,1267.20 L430.50,1276.44 L431.00,1267.71 L431.50,1278.04 L432.00,1269.26 L432.50,1276.24 L433.00,1268.33 L433.50,1276.41 L434.00,1267.99 L434.50,1276.77 L435.00,1266.68 L435.50,1281.67 L436.00,1266.79 L436.50,1276.01 L437.00,1267.44 L437.50,1277.21 L438.00,1268.39 L438.50,1276.88 L439.00,1268.65 L439.50,1284.75 L440.00,1268.63 L440.50,1278.27 L441.00,1269.47 L441.50,1276.78 L442.00,1267.88 L442.50,1275.68 L443.00,1266.98 L443.50,1276.85 L444.00,1268.63 L444.50,1276.21 L445.00,1267.69 L445.50,1275.76 L446.00,1269.03 L446.50,1277.20 L447.00,1269.33 L447.50,1278.08 L448.00,1268.31 L448.50,1278.56 L449.00,1268.49 L449.50,1276.98 L450.00,1268.49 L450.50,1275.77 L451.00,1267.71 L451.50,1283.09 L452.00,1267.13 L452.50,1276.34 L453.00,1267.97 L453.50,1277.59 L454.00,1267.21 L454.50,1276.80 L455.00,1269.86 L455.50,1278.78 L456.00,1269.36 L456.50,1278.31 L457.00,1269.32 L457.50,1279.04 L458.00,1270.17 L458.50,1279.61 L459.00,1268.52 L459.50,1278.38 L460.00,1269.52 L460.50,1277.52 L461.00,1268.72 L461.50,1277.24 L462.00,1269.12 L462.50,1278.95 L463.00,1268.48 L463.50,1277.85 L464.00,1269.48 L464.50,1278.53 L465.00,1269.70 L465.50,1277.02 L466.00,1267.92 L466.50,1276.72 L467.00,1269.09 L467.50,1276.80 L468.00,1268.20 L468.50,1276.30 L469.00,1269.50 L469.50,1278.61 L470.00,1267.97 L470.50,1277.32 L471.00,1269.21 L471.50,1277.84 L472.00,1266.75 L472.50,1276.68 L473.00,1266.87 L473.50,1275.89 L474.00,1265.88 L474.50,1275.85 L475.00,1267.77 L475.50,1275.11 L476.00,1267.14 L476.50,1276.92 L477.00,1267.47 L477.50,1277.64 L478.00,1268.59 L478.50,1276.50 L479.00,1268.61 L479.50,1283.08 L480.00,1268.18 L480.50,1277.60 L481.00,1269.32 L481.50,1276.43 L482.00,1267.32 L482.50,1276.64 L483.00,1268.16 L483.50,1277.73 L484.00,1267.13 L484.50,1276.25 L485.00,1268.61 L485.50,1276.47 L486.00,1267.28 L486.50,1276.40 L487.00,1267.03 L487.50,1277.14 L488.00,1267.39 L488.50,1276.33 L489.00,1267.93 L489.50,1279.95 L490.00,1269.20 L490.50,1276.75 L491.00,1269.60 L491.50,1278.86 L492.00,1269.31 L492.50,1277.70 L493.00,1268.92 L493.50,1276.66 L494.00,1268.99 L494.50,1276.49 L495.00,1267.44 L495.50,1276.44 L496.00,1268.11 L496.50,1276.27 L497.00,1266.83 L497.50,1276.67 L498.00,1267.72 L498.50,1277.26 L499.00,1268.41 L499.50,1277.41 L500.00,1268.48 L500.50,1277.97 L501.00,1267.61 L501.50,1279.14 L502.00,1270.55 L502.50,1277.96 L503.00,1269.96 L503.50,1284.05 L504.00,1268.51 L504.50,1278.81 L505.00,1268.90 L505.50,1277.34 L506.00,1268.35 L506.50,1278.38 L507.00,1269.71 L507.50,1278.56 L508.00,1269.26 L508.50,1276.09 L509.00,1266.95 L509.50,1275.57 L510.00,1261.52 L510.50,1276.52 L511.00,1267.11 L511.50,1282.67 L512.00,1268.74 L512.50,1276.59 L513.00,1267.71 L513.50,1276.99 L514.00,1269.39 L514.50,1276.79 L515.00,1269.87 L515.50,1284.95 L516.00,1270.68 L516.50,1278.82 L517.00,1268.50 L517.50,1278.77 L518.00,1269.37 L518.50,1277.72 L519.00,1269.15 L519.50,1276.51 L520.00,1267.61 L520.50,1276.69 L521.00,1266.09 L521.50,1276.65 L522.00,1267.44 L522.50,1277.34 L522.60,1270.88 L522.70,1211.70 L523.00,1206.09 L523.50,1215.63 L524.00,1210.18 L524.50,1225.91 L525.00,1220.64 L525.50,1238.70 L526.00,1234.84 L526.50,1246.83 L527.00,1241.73 L527.50,1253.58 L528.00,1247.17 L528.50,1260.31 L529.00,1252.85 L529.50,1263.06 L530.00,1256.26 L530.50,1267.25 L531.00,1258.81 L531.50,1268.60 L532.00,1261.63 L532.50,1269.52 L533.00,1263.33 L533.50,1272.82 L534.00,1263.40 L534.50,1275.20 L535.00,1266.57 L535.50,1274.82 L536.00,1265.39 L536.50,1275.13 L537.00,1266.79 L537.50,1275.92 L538.00,1265.86 L538.50,1274.61 L539.00,1266.27 L539.50,1274.54 L540.00,1267.11 L540.50,1275.63 L541.00,1267.69 L541.50,1277.02 L542.00,1268.00 L542.50,1276.12 L543.00,1267.62 L543.50,1277.18 L544.00,1262.80 L544.50,1278.79 L545.00,1269.81 L545.50,1283.62 L546.00,1268.89 L546.50,1276.34 L547.00,1267.60 L547.50,1276.49 L548.00,1269.35 L548.50,1282.20 L549.00,1268.41 L549.50,1278.33 L550.00,1267.48 L550.50,1277.70 L551.00,1269.45 L551.50,1277.38 L552.00,1269.11 L552.50,1275.79 L553.00,1267.20 L553.50,1281.25 L554.00,1267.38 L554.50,1276.79 L555.00,1267.46 L555.50,1277.30 L556.00,1267.94 L556.50,1277.65 L557.00,1267.70 L557.50,1278.15 L558.00,1268.21 L558.50,1277.58 L559.00,1268.96 L559.50,1277.80 L560.00,1265.17 L560.50,1277.59 L561.00,1268.61 L561.50,1277.63 L562.00,1269.52 L562.50,1276.92 L563.00,1268.29 L563.50,1278.47 L564.00,1267.69 L564.50,1277.44 L565.00,1266.98 L565.50,1275.57 L566.00,1260.46 L566.50,1276.36 L567.00,1266.99 L567.50,1275.39 L568.00,1267.08 L568.50,1275.68 L569.00,1266.05 L569.50,1277.11 L570.00,1266.78 L570.50,1276.43 L571.00,1267.70 L571.50,1276.26 L571.70,1270.48 L571.80,1259.70 L572.00,1251.39 L572.50,1267.51 L573.00,1254.87 L573.50,1264.35 L574.00,1257.19 L574.50,1266.31 L575.00,1260.07 L575.50,1268.51 L576.00,1259.46 L576.50,1270.72 L577.00,1262.93 L577.50,1271.43 L578.00,1257.41 L578.50,1277.59 L579.00,1263.69 L579.50,1274.04 L580.00,1264.99 L580.50,1275.38 L581.00,1264.70 L581.50,1275.07 L582.00,1265.73 L582.50,1274.62 L583.00,1266.42 L583.50,1275.44 L584.00,1267.88 L584.50,1275.70 L585.00,1267.28 L585.50,1275.68 L586.00,1267.28 L586.50,1274.80 L587.00,1267.43 L587.50,1275.97 L588.00,1267.64 L588.50,1275.93 L589.00,1267.82 L589.50,1276.27 L590.00,1268.70 L590.50,1276.63 L591.00,1267.72 L591.50,1276.66 L592.00,1267.78 L592.50,1277.53 L593.00,1268.89 L593.50,1276.39 L594.00,1268.91 L594.50,1277.56 L595.00,1268.72 L595.50,1277.60 L596.00,1272.11 L596.10,1227.70 L596.00,1224.38 L596.50,1232.36 L597.00,1224.49 L597.50,1236.63 L598.00,1232.15 L598.50,1245.24 L599.00,1240.63 L599.50,1253.01 L600.00,1249.02 L600.50,1259.26 L601.00,1252.25 L601.50,1270.71 L602.00,1256.96 L602.50,1266.89 L603.00,1260.13 L603.50,1269.39 L604.00,1262.02 L604.50,1271.65 L605.00,1264.85 L605.50,1272.30 L606.00,1264.11 L606.50,1275.71 L607.00,1266.98 L607.50,1276.50 L608.00,1265.30 L608.50,1274.86 L609.00,1268.40 L609.50,1275.39 L610.00,1268.19 L610.50,1276.49 L611.00,1268.48 L611.50,1276.03 L612.00,1267.49 L612.50,1276.17 L613.00,1261.28 L613.50,1276.83 L614.00,1267.90 L614.50,1276.91 L615.00,1266.67 L615.50,1275.70 L616.00,1262.33 L616.50,1276.11 L617.00,1267.82 L617.50,1283.82 L618.00,1268.60 L618.50,1276.04 L619.00,1268.43 L619.50,1278.56 L620.00,1268.32 L620.50,1277.85 L621.00,1268.35 L621.50,1279.09 L622.00,1269.54 L622.50,1277.15 L623.00,1268.07 L623.50,1278.69 L624.00,1268.60 L624.50,1279.28 L625.00,1268.90 L625.50,1283.30 L626.00,1269.59 L626.50,1277.00 L627.00,1267.33 L627.50,1276.47 L628.00,1269.05 L628.50,1275.69 L629.00,1267.49 L629.50,1276.76 L630.00,1267.13 L630.50,1281.11 L631.00,1266.46 L631.50,1276.35 L632.00,1266.65 L632.50,1275.95 L633.00,1268.01 L633.50,1275.23 L634.00,1267.13 L634.50,1276.31 L635.00,1268.43 L635.50,1277.85 L636.00,1268.37 L636.50,1276.90 L637.00,1269.15 L637.50,1277.12 L638.00,1268.46 L638.50,1278.21 L639.00,1264.22 L639.50,1277.44 L640.00,1270.01 L640.50,1277.71 L641.00,1269.32 L641.50,1278.44 L642.00,1268.91 L642.50,1277.92 L643.00,1268.36 L643.50,1278.11 L644.00,1266.98 L644.50,1281.18 L645.00,1268.05 L645.50,1276.10 L646.00,1268.65 L646.50,1277.75 L647.00,1268.57 L647.50,1277.72 L648.00,1269.80 L648.50,1278.76 L649.00,1269.23 L649.50,1278.74 L650.00,1270.00 L650.50,1277.69 L651.00,1268.36 L651.50,1277.29 L652.00,1268.21 L652.50,1276.06 L653.00,1268.02 L653.50,1276.05 L654.00,1266.64 L654.50,1276.96 L655.00,1267.74 L655.50,1276.50 L655.70,1273.88 L655.80,1264.70 L656.00,1258.26 L656.50,1268.49 L657.00,1260.40 L657.50,1269.50 L658.00,1260.63 L658.50,1270.53 L659.00,1262.00 L659.50,1277.59 L660.00,1263.06 L660.50,1272.64 L661.00,1264.29 L661.50,1275.40 L662.00,1265.77 L662.50,1274.84 L663.00,1267.05 L663.50,1275.73 L664.00,1266.38 L664.50,1275.55 L665.00,1265.76 L665.50,1274.38 L666.00,1265.58 L666.50,1274.92 L667.00,1268.00 L667.50,1276.26 L668.00,1267.71 L668.50,1276.80 L669.00,1268.59 L669.50,1277.51 L670.00,1267.92 L670.50,1278.74 L671.00,1268.75 L671.50,1276.83 L672.00,1267.75 L672.50,1277.42 L673.00,1267.25 L673.50,1277.07 L674.00,1267.66 L674.50,1276.26 L675.00,1267.35 L675.50,1277.40 L676.00,1269.71 L676.50,1277.21 L677.00,1269.52 L677.50,1277.63 L678.00,1269.40 L678.50,1277.45 L679.00,1268.81 L679.50,1277.87 L680.00,1268.31 L680.50,1277.51 L681.00,1268.55 L681.50,1275.79 L682.00,1267.54 L682.50,1277.07 L683.00,1266.91 L683.50,1277.64 L684.00,1267.65 L684.50,1277.67 L685.00,1267.86 L685.50,1277.67 L686.00,1268.29 L686.50,1277.86 L687.00,1268.10 L687.50,1283.82 L688.00,1267.93 L688.50,1276.83 L689.00,1268.49 L689.50,1276.32 L690.00,1268.17 L690.50,1276.02 L691.00,1267.87 L691.50,1276.96 L692.00,1267.27 L692.50,1276.74 L693.00,1269.37 L693.50,1276.90 L694.00,1267.89 L694.50,1277.23 L695.00,1267.69 L695.50,1277.22 L696.00,1267.34 L696.50,1277.35 L697.00,1266.93 L697.50,1275.41 L698.00,1267.91 L698.50,1275.32 L699.00,1267.87 L699.50,1275.09 L700.00,1266.49 L700.50,1275.57 L701.00,1267.30 L701.50,1276.77 L702.00,1267.74 L702.50,1276.06 L703.00,1267.61 L703.50,1279.22 L704.00,1267.60 L704.50,1275.97 L705.00,1267.93 L705.50,1279.90 L706.00,1267.74 L706.50,1277.78 L707.00,1268.31 L707.50,1277.19 L708.00,1268.11 L708.50,1277.30 L709.00,1268.97 L709.50,1277.13 L710.00,1267.51 L710.50,1277.37 L711.00,1269.04 L711.50,1277.13 L712.00,1268.41 L712.50,1277.25 L713.00,1268.19 L713.50,1278.67 L714.00,1269.84 L714.50,1279.14 L715.00,1268.58 L715.50,1277.26 L716.00,1267.97 L716.50,1278.76 L717.00,1268.35 L717.50,1276.97 L718.00,1268.93 L718.50,1277.87 L719.00,1267.82 L719.50,1275.86 L720.00,1267.15 L720.50,1276.17 L721.00,1267.75 L721.50,1276.01 L722.00,1268.31 L722.50,1275.59 L723.00,1268.67 L723.50,1277.45 L724.00,1268.52 L724.50,1282.54 L725.00,1268.32 L725.50,1276.83 L726.00,1268.04 L726.50,1277.89 L727.00,1269.15 L727.50,1278.07 L728.00,1268.27 L728.50,1277.43 L729.00,1267.64 L729.50,1275.28 L730.00,1266.56 L730.50,1275.55 L731.00,1266.59 L731.50,1276.97 L732.00,1267.88 L732.50,1276.18 L733.00,1267.84 L733.50,1278.06 L734.00,1268.00 L734.50,1278.14 L735.00,1269.43 L735.50,1278.96 L736.00,1269.51 L736.50,1278.79 L737.00,1268.21 L737.50,1277.27 L738.00,1268.73 L738.50,1278.33 L739.00,1268.12 L739.50,1276.22 L740.00,1269.04 L740.50,1276.35 L741.00,1268.66 L741.50,1280.88 L742.00,1266.85 L742.50,1276.16 L743.00,1265.49 L743.50,1275.16 L744.00,1260.57 L744.50,1274.16 L745.00,1265.32 L745.50,1275.44 L746.00,1264.83 L746.50,1276.10 L747.00,1267.35 L747.50,1276.11 L748.00,1267.01 L748.50,1276.71 L749.00,1269.02 L749.50,1277.39 L750.00,1268.35 L750.50,1277.75 L751.00,1269.58 L751.50,1278.01 L752.00,1269.64 L752.50,1277.48 L753.00,1269.55 L753.50,1276.63 L754.00,1268.53 L754.50,1277.10 L755.00,1267.66 L755.50,1277.60 L756.00,1268.26 L756.50,1277.72 L757.00,1267.73" fill="none" stroke="#000" stroke-width="1.5" stroke-linejoin="miter" stroke-miterlimit="2"/><text x="617.59" y="1218.30" font-size="30.31" fill="#000">50 pA</text><polyline points="705.80,1197.40 705.80,1227.40 738.90,1227.40" fill="none" stroke="#000" stroke-width="3.4" stroke-linejoin="miter"/><text x="672.47" y="1256.90" font-size="30.55" fill="#000">250 ms</text><line x1="263.70" y1="1362.40" x2="263.70" y2="1717.60" stroke="#000" stroke-width="3.2"/><line x1="249.00" y1="1709.60" x2="783.70" y2="1709.60" stroke="#000" stroke-width="3.2"/><line x1="249.00" y1="1365.10" x2="263.70" y2="1365.10" stroke="#000" stroke-width="3.2"/><line x1="249.00" y1="1537.35" x2="263.70" y2="1537.35" stroke="#000" stroke-width="3.2"/><line x1="249.00" y1="1709.60" x2="263.70" y2="1709.60" stroke="#000" stroke-width="3.2"/><text x="209.42" y="1374.40" font-size="26.28" font-weight="bold" fill="#000">1.0</text><text x="209.98" y="1547.30" font-size="25.58" font-weight="bold" fill="#000">0.5</text><text x="209.96" y="1718.60" font-size="25.88" font-weight="bold" fill="#000">0.0</text><line x1="436.90" y1="1709.60" x2="436.90" y2="1726.40" stroke="#000" stroke-width="3.2"/><line x1="610.10" y1="1709.60" x2="610.10" y2="1726.40" stroke="#000" stroke-width="3.2"/><line x1="783.30" y1="1709.60" x2="783.30" y2="1726.40" stroke="#000" stroke-width="3.2"/><text x="255.32" y="1754.00" font-size="31.00" fill="#000">0</text><text x="428.13" y="1754.00" font-size="31.00" fill="#000">1</text><text x="601.80" y="1754.00" font-size="31.00" fill="#000">2</text><text x="775.00" y="1754.00" font-size="31.00" fill="#000">3</text><text x="283.97" y="1809.50" font-size="37.75" fill="#000">sIPSC inter-event interval (s)</text><text transform="translate(190.80,1699.64) rotate(-90)" x="0" y="0" font-size="32.80" fill="#000">Cumulative probability</text><path d="M265.50,1709.60 C266.00,1708.83 267.40,1707.13 268.50,1705.00 C269.60,1702.87 270.63,1708.08 272.10,1696.80 C273.57,1685.52 275.57,1654.65 277.30,1637.30 C279.03,1619.95 280.52,1605.58 282.50,1592.70 C284.48,1579.82 286.60,1571.13 289.20,1560.00 C291.80,1548.87 295.38,1535.30 298.10,1525.90 C300.82,1516.50 302.78,1510.78 305.50,1503.60 C308.22,1496.42 310.93,1489.73 314.40,1482.80 C317.87,1475.87 322.33,1468.43 326.30,1462.00 C330.27,1455.57 333.98,1449.90 338.20,1444.20 C342.42,1438.50 346.90,1432.52 351.60,1427.80 C356.30,1423.08 361.45,1419.37 366.40,1415.90 C371.35,1412.43 376.33,1409.85 381.30,1407.00 C386.27,1404.15 391.25,1400.90 396.20,1398.80 C401.15,1396.70 406.05,1395.88 411.00,1394.40 C415.95,1392.92 421.07,1391.27 425.90,1389.90 C430.73,1388.53 433.65,1387.53 440.00,1386.20 C446.35,1384.87 452.00,1383.70 464.00,1381.90 C476.00,1380.10 496.00,1377.08 512.00,1375.40 C528.00,1373.72 544.00,1372.72 560.00,1371.80 C576.00,1370.88 592.00,1370.50 608.00,1369.90 C624.00,1369.30 640.00,1368.68 656.00,1368.20 C672.00,1367.72 682.80,1367.40 704.00,1367.00 C725.20,1366.60 770.00,1366.00 783.20,1365.80" fill="none" stroke="#EB7D22" stroke-width="2.5"/><path d="M264.70,1709.60 C265.25,1708.50 266.90,1706.38 268.00,1703.00 C269.10,1699.62 270.25,1697.77 271.30,1689.30 C272.35,1680.83 273.05,1667.05 274.30,1652.20 C275.55,1637.35 277.18,1616.30 278.80,1600.20 C280.42,1584.10 282.27,1568.73 284.00,1555.60 C285.73,1542.47 287.47,1531.07 289.20,1521.40 C290.93,1511.73 291.93,1506.77 294.40,1497.60 C296.87,1488.43 300.67,1475.55 304.00,1466.40 C307.33,1457.25 310.93,1449.38 314.40,1442.70 C317.87,1436.02 321.33,1431.02 324.80,1426.30 C328.27,1421.58 331.73,1417.98 335.20,1414.40 C338.67,1410.82 341.63,1407.65 345.60,1404.80 C349.57,1401.95 354.28,1399.42 359.00,1397.30 C363.72,1395.18 368.95,1393.82 373.90,1392.10 C378.85,1390.38 383.75,1388.48 388.70,1387.00 C393.65,1385.52 398.65,1384.32 403.60,1383.20 C408.55,1382.08 412.33,1381.20 418.40,1380.30 C424.47,1379.40 432.40,1378.90 440.00,1377.80 C447.60,1376.70 452.00,1375.10 464.00,1373.70 C476.00,1372.30 496.00,1370.52 512.00,1369.40 C528.00,1368.28 544.00,1367.60 560.00,1367.00 C576.00,1366.40 570.80,1366.07 608.00,1365.80 C645.20,1365.53 754.00,1365.47 783.20,1365.40" fill="none" stroke="#000" stroke-width="2.5"/><line x1="656.00" y1="1417.90" x2="687.20" y2="1417.90" stroke="#000" stroke-width="2.5"/><line x1="656.00" y1="1445.50" x2="687.20" y2="1445.50" stroke="#EB7D22" stroke-width="2.5"/><text x="695.73" y="1425.10" font-size="31.37" fill="#000">Control</text><text x="694.79" y="1456.00" font-size="31.43" fill="#000">MAM</text><line x1="477.30" y1="1434.80" x2="477.30" y2="1654.80" stroke="#000" stroke-width="2.8"/><line x1="470.40" y1="1653.50" x2="696.10" y2="1653.50" stroke="#000" stroke-width="2.8"/><line x1="470.40" y1="1434.80" x2="477.30" y2="1434.80" stroke="#000" stroke-width="2.8"/><line x1="470.40" y1="1478.54" x2="477.30" y2="1478.54" stroke="#000" stroke-width="2.8"/><line x1="470.40" y1="1522.28" x2="477.30" y2="1522.28" stroke="#000" stroke-width="2.8"/><line x1="470.40" y1="1566.02" x2="477.30" y2="1566.02" stroke="#000" stroke-width="2.8"/><line x1="470.40" y1="1609.76" x2="477.30" y2="1609.76" stroke="#000" stroke-width="2.8"/><line x1="470.40" y1="1653.50" x2="477.30" y2="1653.50" stroke="#000" stroke-width="2.8"/><text x="428.68" y="1441.60" font-size="31.00" fill="#000">10</text><text x="446.04" y="1484.54" font-size="31.00" fill="#000">8</text><text x="446.03" y="1528.28" font-size="31.00" fill="#000">6</text><text x="445.73" y="1572.02" font-size="31.00" fill="#000">4</text><text x="446.34" y="1615.76" font-size="31.00" fill="#000">2</text><text x="445.88" y="1659.50" font-size="31.00" fill="#000">0</text><line x1="530.80" y1="1653.50" x2="530.80" y2="1659.20" stroke="#000" stroke-width="2.8"/><line x1="640.00" y1="1653.50" x2="640.00" y2="1659.20" stroke="#000" stroke-width="2.8"/><polyline points="496.70,1652.10 496.70,1531.20 566.60,1531.20 566.60,1652.10" fill="none" stroke="#000" stroke-width="2.6" stroke-linejoin="miter"/><polyline points="605.50,1652.10 605.50,1571.80 675.90,1571.80 675.90,1652.10" fill="none" stroke="#EB7D22" stroke-width="2.6" stroke-linejoin="miter"/><line x1="530.80" y1="1516.30" x2="530.80" y2="1543.60" stroke="#000" stroke-width="2.6"/><line x1="513.30" y1="1516.30" x2="548.30" y2="1516.30" stroke="#000" stroke-width="2.6"/><line x1="513.30" y1="1543.60" x2="548.30" y2="1543.60" stroke="#000" stroke-width="2.6"/><line x1="640.00" y1="1556.80" x2="640.00" y2="1584.60" stroke="#EB7D22" stroke-width="2.6"/><line x1="622.50" y1="1556.80" x2="657.50" y2="1556.80" stroke="#EB7D22" stroke-width="2.6"/><line x1="622.50" y1="1584.60" x2="657.50" y2="1584.60" stroke="#EB7D22" stroke-width="2.6"/><circle cx="527.60" cy="1453.60" r="4.8" fill="#000"/><circle cx="536.10" cy="1449.30" r="4.8" fill="#000"/><circle cx="540.40" cy="1495.20" r="4.8" fill="#000"/><circle cx="524.00" cy="1500.50" r="4.8" fill="#000"/><circle cx="531.90" cy="1502.60" r="4.8" fill="#000"/><circle cx="523.30" cy="1509.90" r="4.8" fill="#000"/><circle cx="531.90" cy="1510.50" r="4.8" fill="#000"/><circle cx="539.30" cy="1513.30" r="4.8" fill="#000"/><circle cx="531.90" cy="1524.00" r="4.8" fill="#000"/><circle cx="531.90" cy="1536.10" r="4.8" fill="#000"/><circle cx="527.60" cy="1553.20" r="4.8" fill="#000"/><circle cx="535.70" cy="1559.00" r="4.8" fill="#000"/><circle cx="523.30" cy="1611.90" r="4.8" fill="#000"/><circle cx="531.40" cy="1614.40" r="4.8" fill="#000"/><circle cx="540.40" cy="1620.80" r="4.8" fill="#000"/><circle cx="640.70" cy="1476.40" r="4.8" fill="#EB7D22"/><circle cx="636.40" cy="1496.70" r="4.8" fill="#EB7D22"/><circle cx="644.50" cy="1501.40" r="4.8" fill="#EB7D22"/><circle cx="640.70" cy="1549.60" r="4.8" fill="#EB7D22"/><circle cx="640.70" cy="1560.70" r="4.8" fill="#EB7D22"/><circle cx="640.70" cy="1575.60" r="4.8" fill="#EB7D22"/><circle cx="632.10" cy="1598.00" r="4.8" fill="#EB7D22"/><circle cx="640.70" cy="1598.00" r="4.8" fill="#EB7D22"/><circle cx="649.20" cy="1598.00" r="4.8" fill="#EB7D22"/><circle cx="632.10" cy="1614.00" r="4.8" fill="#EB7D22"/><circle cx="640.70" cy="1611.90" r="4.8" fill="#EB7D22"/><circle cx="640.70" cy="1618.30" r="4.8" fill="#EB7D22"/><circle cx="649.20" cy="1621.50" r="4.8" fill="#EB7D22"/><text x="496.48" y="1647.10" font-size="30.87" fill="#000">15/6</text><text x="608.48" y="1647.10" font-size="30.87" fill="#000">13/6</text><text x="479.75" y="1689.70" font-size="30.92" fill="#000">Control</text><text x="604.00" y="1689.70" font-size="31.20" fill="#000">MAM</text><text transform="translate(417.70,1696.01) rotate(-90)" x="0" y="0" font-size="30.49" fill="#000">sIPSC frequency (Hz)</text><polyline points="531.20,1425.80 531.20,1415.50 640.40,1415.50 640.40,1425.80" fill="none" stroke="#000" stroke-width="2.5"/><text transform="translate(583.16,1415.78) scale(0.02278,0.02200)" x="0" y="0" font-size="1000" fill="#000">*</text><text transform="translate(867.59,1209.20) scale(0.04437,0.03641)" x="0" y="0" font-size="1000" font-weight="bold" fill="#000" stroke="#000" stroke-width="13.5">h</text><text x="969.54" y="1234.00" font-size="43.27" fill="#000">MAM</text><path d="M979.50,1286.95 L980.00,1276.66 L980.50,1286.65 L981.00,1278.42 L981.50,1285.99 L982.00,1278.35 L982.50,1286.83 L983.00,1279.41 L983.50,1286.10 L984.00,1277.13 L984.50,1287.69 L985.00,1278.64 L985.50,1286.49 L986.00,1276.63 L986.50,1287.77 L987.00,1277.35 L987.50,1287.03 L988.00,1278.30 L988.50,1287.35 L989.00,1278.96 L989.50,1287.15 L990.00,1278.76 L990.50,1288.21 L991.00,1279.13 L991.50,1287.69 L992.00,1277.14 L992.50,1286.55 L993.00,1277.17 L993.50,1287.61 L994.00,1279.00 L994.50,1287.56 L995.00,1278.99 L995.50,1286.87 L996.00,1278.13 L996.50,1286.22 L997.00,1278.42 L997.50,1287.51 L998.00,1277.93 L998.50,1285.64 L999.00,1276.67 L999.50,1285.87 L1000.00,1275.78 L1000.50,1284.60 L1001.00,1276.71 L1001.50,1285.45 L1002.00,1276.05 L1002.50,1285.20 L1003.00,1276.55 L1003.50,1283.71 L1004.00,1275.20 L1004.50,1284.73 L1005.00,1276.14 L1005.50,1285.49 L1006.00,1275.81 L1006.50,1285.98 L1007.00,1276.22 L1007.50,1286.74 L1008.00,1278.17 L1008.50,1287.03 L1009.00,1276.99 L1009.50,1286.80 L1010.00,1278.16 L1010.50,1286.93 L1011.00,1272.24 L1011.50,1286.59 L1012.00,1277.98 L1012.50,1293.70 L1013.00,1279.17 L1013.50,1288.43 L1014.00,1279.56 L1014.50,1287.08 L1015.00,1277.63 L1015.50,1286.95 L1016.00,1277.94 L1016.50,1287.38 L1017.00,1276.66 L1017.50,1287.43 L1018.00,1277.01 L1018.50,1292.59 L1019.00,1277.99 L1019.50,1286.41 L1020.00,1276.18 L1020.50,1285.24 L1021.00,1276.47 L1021.50,1285.89 L1022.00,1276.38 L1022.50,1286.30 L1023.00,1278.09 L1023.50,1285.30 L1024.00,1277.94 L1024.50,1286.88 L1025.00,1276.80 L1025.50,1287.65 L1026.00,1277.68 L1026.50,1287.55 L1027.00,1278.16 L1027.50,1286.88 L1028.00,1278.23 L1028.50,1285.67 L1029.00,1278.03 L1029.50,1287.21 L1030.00,1276.61 L1030.50,1285.47 L1031.00,1277.19 L1031.50,1285.43 L1032.00,1277.10 L1032.50,1286.43 L1033.00,1278.75 L1033.50,1287.71 L1034.00,1278.38 L1034.50,1287.08 L1035.00,1279.38 L1035.50,1286.24 L1036.00,1279.23 L1036.50,1287.26 L1037.00,1277.56 L1037.50,1288.19 L1038.00,1278.11 L1038.50,1286.75 L1039.00,1276.72 L1039.50,1286.46 L1040.00,1276.54 L1040.50,1285.88 L1041.00,1276.80 L1041.50,1285.76 L1042.00,1276.11 L1042.50,1286.19 L1043.00,1276.79 L1043.50,1286.99 L1044.00,1278.86 L1044.50,1286.06 L1045.00,1278.59 L1045.50,1285.75 L1046.00,1277.69 L1046.50,1284.91 L1047.00,1276.88 L1047.50,1285.52 L1048.00,1275.64 L1048.50,1285.72 L1049.00,1277.38 L1049.50,1285.70 L1050.00,1276.79 L1050.50,1286.95 L1051.00,1276.03 L1051.50,1285.29 L1052.00,1276.32 L1052.50,1285.34 L1053.00,1275.45 L1053.50,1284.45 L1054.00,1275.86 L1054.50,1286.01 L1055.00,1276.38 L1055.50,1286.57 L1056.00,1271.70 L1056.50,1287.00 L1057.00,1279.08 L1057.50,1286.17 L1058.00,1274.00 L1058.50,1292.31 L1059.00,1276.62 L1059.50,1290.85 L1060.00,1276.89 L1060.50,1285.81 L1061.00,1276.77 L1061.50,1286.45 L1062.00,1276.52 L1062.50,1285.98 L1063.00,1277.13 L1063.50,1286.31 L1064.00,1277.81 L1064.50,1286.61 L1065.00,1277.24 L1065.50,1286.00 L1066.00,1276.71 L1066.50,1287.43 L1067.00,1276.79 L1067.50,1285.88 L1068.00,1277.63 L1068.50,1286.10 L1069.00,1278.32 L1069.50,1285.07 L1070.00,1274.23 L1070.50,1287.42 L1071.00,1278.50 L1071.50,1286.87 L1072.00,1278.78 L1072.50,1286.00 L1073.00,1278.83 L1073.50,1287.22 L1074.00,1277.88 L1074.50,1286.69 L1075.00,1277.42 L1075.50,1285.64 L1076.00,1277.06 L1076.50,1286.68 L1077.00,1277.84 L1077.50,1286.55 L1078.00,1277.93 L1078.50,1285.90 L1079.00,1271.19 L1079.50,1285.32 L1080.00,1276.84 L1080.50,1286.86 L1081.00,1278.53 L1081.50,1285.13 L1082.00,1278.41 L1082.50,1285.34 L1083.00,1276.85 L1083.50,1286.51 L1084.00,1275.94 L1084.50,1286.47 L1085.00,1277.23 L1085.50,1286.32 L1086.00,1276.35 L1086.50,1284.76 L1087.00,1276.10 L1087.40,1281.08 L1087.50,1235.80 L1087.50,1239.91 L1088.00,1229.97 L1088.50,1239.15 L1089.00,1237.57 L1089.50,1253.91 L1090.00,1251.63 L1090.50,1265.30 L1091.00,1259.03 L1091.50,1272.10 L1092.00,1266.29 L1092.50,1278.51 L1093.00,1270.54 L1093.50,1280.85 L1094.00,1272.08 L1094.50,1281.49 L1095.00,1273.65 L1095.50,1282.26 L1096.00,1274.91 L1096.50,1283.11 L1097.00,1275.76 L1097.50,1284.66 L1098.00,1276.33 L1098.50,1283.78 L1099.00,1276.64 L1099.50,1285.73 L1100.00,1276.50 L1100.50,1284.70 L1101.00,1275.14 L1101.50,1284.67 L1102.00,1276.89 L1102.50,1286.36 L1103.00,1278.10 L1103.50,1284.95 L1104.00,1276.01 L1104.50,1286.40 L1105.00,1278.24 L1105.50,1286.57 L1106.00,1277.80 L1106.50,1287.04 L1107.00,1276.13 L1107.50,1285.26 L1108.00,1277.62 L1108.50,1286.03 L1109.00,1278.18 L1109.50,1287.39 L1110.00,1276.99 L1110.50,1286.20 L1111.00,1277.96 L1111.50,1286.19 L1112.00,1277.91 L1112.50,1286.79 L1113.00,1276.93 L1113.50,1285.78 L1114.00,1276.98 L1114.50,1284.87 L1115.00,1277.01 L1115.50,1286.80 L1116.00,1273.07 L1116.50,1286.25 L1117.00,1276.72 L1117.50,1285.80 L1118.00,1276.04 L1118.50,1284.51 L1119.00,1276.53 L1119.50,1285.37 L1120.00,1275.41 L1120.50,1285.40 L1121.00,1276.46 L1121.50,1285.14 L1122.00,1276.10 L1122.50,1285.35 L1123.00,1276.10 L1123.50,1285.10 L1124.00,1277.25 L1124.50,1285.69 L1125.00,1273.60 L1125.50,1286.82 L1126.00,1277.53 L1126.50,1287.00 L1127.00,1278.79 L1127.50,1287.14 L1128.00,1276.22 L1128.50,1286.76 L1129.00,1277.93 L1129.50,1285.94 L1130.00,1276.79 L1130.50,1284.85 L1131.00,1277.01 L1131.50,1283.68 L1132.00,1277.14 L1132.50,1284.54 L1133.00,1275.80 L1133.50,1285.29 L1134.00,1277.07 L1134.50,1286.02 L1135.00,1279.05 L1135.50,1285.52 L1136.00,1276.83 L1136.50,1287.22 L1137.00,1278.44 L1137.50,1286.55 L1138.00,1277.26 L1138.50,1284.49 L1139.00,1275.92 L1139.50,1284.63 L1140.00,1275.96 L1140.50,1285.15 L1141.00,1269.59 L1141.50,1285.74 L1142.00,1277.67 L1142.50,1286.39 L1143.00,1276.11 L1143.50,1286.81 L1144.00,1278.52 L1144.50,1286.75 L1145.00,1276.87 L1145.50,1286.78 L1146.00,1277.38 L1146.50,1286.17 L1147.00,1278.41 L1147.50,1286.70 L1148.00,1278.37 L1148.50,1286.79 L1149.00,1278.65 L1149.50,1286.36 L1150.00,1276.90 L1150.50,1286.91 L1151.00,1278.26 L1151.50,1286.63 L1152.00,1276.36 L1152.50,1287.48 L1153.00,1276.64 L1153.50,1285.62 L1154.00,1277.01 L1154.50,1286.38 L1155.00,1277.95 L1155.50,1286.45 L1156.00,1277.80 L1156.50,1287.32 L1157.00,1277.52 L1157.50,1286.11 L1158.00,1279.15 L1158.50,1288.52 L1159.00,1279.03 L1159.50,1287.15 L1160.00,1279.35 L1160.50,1292.22 L1161.00,1277.07 L1161.50,1284.85 L1162.00,1277.62 L1162.50,1285.50 L1163.00,1278.10 L1163.50,1286.84 L1164.00,1276.66 L1164.50,1288.19 L1165.00,1278.87 L1165.50,1286.92 L1166.00,1279.40 L1166.50,1287.15 L1167.00,1278.44 L1167.50,1287.42 L1168.00,1277.77 L1168.50,1287.83 L1169.00,1277.71 L1169.50,1285.82 L1170.00,1276.20 L1170.50,1287.11 L1171.00,1278.44 L1171.50,1285.41 L1172.00,1276.82 L1172.50,1285.98 L1173.00,1274.79 L1173.50,1283.61 L1174.00,1276.43 L1174.50,1284.68 L1175.00,1275.93 L1175.50,1286.11 L1176.00,1276.80 L1176.50,1285.59 L1177.00,1277.66 L1177.50,1291.88 L1178.00,1277.20 L1178.50,1287.57 L1179.00,1278.41 L1179.50,1285.19 L1180.00,1277.06 L1180.50,1285.63 L1181.00,1276.82 L1181.50,1288.62 L1182.00,1276.15 L1182.50,1286.27 L1183.00,1277.42 L1183.50,1286.10 L1184.00,1277.32 L1184.50,1285.44 L1185.00,1276.99 L1185.50,1285.65 L1186.00,1277.28 L1186.50,1286.04 L1187.00,1275.88 L1187.50,1285.46 L1188.00,1278.17 L1188.50,1286.99 L1189.00,1278.58 L1189.50,1287.09 L1190.00,1277.20 L1190.50,1287.75 L1191.00,1278.41 L1191.50,1287.80 L1192.00,1277.83 L1192.50,1286.08 L1193.00,1277.57 L1193.50,1284.58 L1194.00,1276.63 L1194.50,1284.89 L1195.00,1275.85 L1195.50,1286.39 L1196.00,1276.92 L1196.50,1287.20 L1197.00,1277.77 L1197.50,1285.83 L1198.00,1278.45 L1198.50,1286.49 L1199.00,1278.21 L1199.50,1285.57 L1200.00,1276.48 L1200.50,1285.81 L1201.00,1277.67 L1201.50,1285.78 L1202.00,1277.54 L1202.50,1287.74 L1203.00,1278.61 L1203.50,1287.76 L1204.00,1277.53 L1204.50,1286.83 L1205.00,1278.23 L1205.50,1286.67 L1206.00,1278.57 L1206.50,1286.08 L1207.00,1276.11 L1207.50,1286.33 L1208.00,1277.55 L1208.50,1286.67 L1209.00,1277.50 L1209.50,1285.69 L1210.00,1279.25 L1210.50,1288.64 L1211.00,1278.80 L1211.50,1288.86 L1212.00,1279.22 L1212.50,1286.90 L1213.00,1278.68 L1213.50,1288.18 L1214.00,1279.68 L1214.50,1287.47 L1215.00,1277.17 L1215.50,1285.94 L1216.00,1278.83 L1216.50,1285.75 L1217.00,1277.57 L1217.50,1287.78 L1218.00,1278.17 L1218.50,1287.46 L1219.00,1278.29 L1219.50,1286.28 L1220.00,1276.57 L1220.50,1285.20 L1221.00,1277.33 L1221.50,1286.61 L1222.00,1276.95 L1222.50,1286.55 L1223.00,1276.36 L1223.50,1286.21 L1224.00,1277.40 L1224.50,1287.02 L1225.00,1278.17 L1225.50,1286.25 L1226.00,1278.56 L1226.50,1286.60 L1227.00,1278.08 L1227.50,1286.48 L1228.00,1278.52 L1228.50,1287.29 L1229.00,1277.35 L1229.50,1285.75 L1230.00,1276.25 L1230.50,1286.02 L1231.00,1277.30 L1231.50,1286.01 L1232.00,1278.31 L1232.50,1287.10 L1233.00,1278.15 L1233.50,1286.25 L1234.00,1276.80 L1234.50,1286.90 L1235.00,1279.21 L1235.50,1286.43 L1236.00,1277.78 L1236.50,1286.70 L1237.00,1277.64 L1237.50,1286.76 L1238.00,1278.41 L1238.50,1293.48 L1239.00,1277.60 L1239.50,1286.16 L1240.00,1277.48 L1240.50,1286.09 L1241.00,1276.88 L1241.50,1286.18 L1242.00,1278.00 L1242.50,1286.11 L1243.00,1277.38 L1243.50,1286.27 L1244.00,1278.76 L1244.50,1288.00 L1245.00,1279.06 L1245.50,1292.49 L1246.00,1279.06 L1246.50,1288.11 L1247.00,1278.51 L1247.50,1286.99 L1248.00,1278.57 L1248.20,1282.76 L1248.30,1234.80 L1248.50,1240.36 L1249.00,1232.04 L1249.50,1239.99 L1250.00,1231.86 L1250.50,1247.57 L1251.00,1241.16 L1251.50,1252.23 L1252.00,1246.81 L1252.50,1257.01 L1253.00,1250.41 L1253.50,1262.02 L1254.00,1248.55 L1254.50,1263.82 L1255.00,1257.83 L1255.50,1268.18 L1256.00,1260.29 L1256.50,1271.34 L1257.00,1262.85 L1257.50,1273.91 L1258.00,1266.79 L1258.50,1276.70 L1259.00,1267.13 L1259.50,1277.01 L1260.00,1269.21 L1260.50,1278.91 L1261.00,1268.32 L1261.50,1278.59 L1262.00,1270.36 L1262.50,1278.18 L1263.00,1269.82 L1263.50,1280.62 L1264.00,1272.49 L1264.50,1281.76 L1265.00,1272.83 L1265.50,1283.49 L1266.00,1273.35 L1266.50,1282.36 L1267.00,1275.22 L1267.50,1284.66 L1268.00,1275.64 L1268.50,1283.29 L1269.00,1274.30 L1269.50,1284.45 L1270.00,1275.30 L1270.50,1283.60 L1271.00,1276.02 L1271.50,1283.61 L1272.00,1276.84 L1272.50,1285.36 L1273.00,1275.73 L1273.50,1284.28 L1274.00,1275.81 L1274.50,1285.58 L1275.00,1276.66 L1275.50,1286.53 L1276.00,1277.67 L1276.50,1286.70 L1277.00,1277.46 L1277.50,1286.71 L1278.00,1278.89 L1278.50,1286.09 L1279.00,1277.80 L1279.50,1286.93 L1280.00,1277.36 L1280.50,1286.52 L1281.00,1276.82 L1281.50,1285.75 L1282.00,1277.76 L1282.50,1285.63 L1283.00,1275.87 L1283.50,1285.02 L1284.00,1277.02 L1284.50,1286.07 L1285.00,1277.00 L1285.50,1284.76 L1286.00,1277.00 L1286.50,1285.13 L1287.00,1278.26 L1287.50,1286.00 L1288.00,1277.88 L1288.50,1285.88 L1289.00,1276.10 L1289.50,1285.65 L1290.00,1276.47 L1290.50,1286.29 L1291.00,1277.07 L1291.50,1286.71 L1292.00,1276.77 L1292.50,1287.32 L1293.00,1276.88 L1293.50,1285.72 L1294.00,1276.59 L1294.50,1285.30 L1295.00,1276.93 L1295.50,1285.39 L1296.00,1277.76 L1296.50,1285.99 L1297.00,1277.27 L1297.50,1286.31 L1298.00,1277.82 L1298.50,1286.28 L1299.00,1278.82 L1299.50,1288.00 L1300.00,1277.62 L1300.50,1286.59 L1301.00,1276.73 L1301.50,1287.71 L1302.00,1278.02 L1302.50,1285.79 L1303.00,1277.99 L1303.50,1285.52 L1304.00,1277.19 L1304.50,1287.23 L1305.00,1277.72 L1305.50,1286.68 L1306.00,1279.16 L1306.50,1286.95 L1307.00,1277.47 L1307.50,1287.11 L1308.00,1277.69 L1308.50,1286.34 L1309.00,1277.46 L1309.50,1286.51 L1310.00,1277.62 L1310.50,1286.28 L1311.00,1276.30 L1311.50,1285.29 L1312.00,1276.93 L1312.50,1284.79 L1313.00,1277.52 L1313.50,1284.51 L1314.00,1277.44 L1314.50,1289.86 L1315.00,1275.40 L1315.50,1285.57 L1316.00,1276.38 L1316.50,1286.10 L1317.00,1277.32 L1317.50,1285.45 L1318.00,1277.36 L1318.50,1287.41 L1319.00,1277.58 L1319.50,1286.68 L1320.00,1279.91 L1320.50,1286.82 L1321.00,1278.59 L1321.50,1289.03 L1322.00,1279.38 L1322.50,1287.55 L1323.00,1278.95 L1323.50,1287.64 L1324.00,1277.48 L1324.50,1286.74 L1325.00,1277.65 L1325.50,1285.52 L1326.00,1276.56 L1326.50,1286.31 L1327.00,1278.26 L1327.50,1287.17 L1328.00,1277.36 L1328.50,1286.10 L1329.00,1277.31 L1329.50,1285.67 L1330.00,1278.65 L1330.50,1287.75 L1331.00,1277.19 L1331.50,1287.40 L1332.00,1278.29 L1332.50,1286.57 L1333.00,1278.80 L1333.50,1286.88 L1334.00,1278.65 L1334.50,1285.58 L1335.00,1277.91 L1335.50,1286.67 L1336.00,1276.19 L1336.50,1286.22 L1337.00,1278.01 L1337.50,1287.34 L1338.00,1277.89 L1338.50,1286.60 L1339.00,1278.07 L1339.50,1286.24 L1340.00,1279.13 L1340.50,1286.45 L1341.00,1277.20 L1341.50,1286.74 L1342.00,1277.82 L1342.50,1287.24 L1343.00,1274.23 L1343.50,1287.28 L1344.00,1277.15 L1344.50,1284.68 L1345.00,1276.38 L1345.50,1284.76 L1346.00,1276.84 L1346.50,1285.47 L1347.00,1276.88 L1347.50,1286.47 L1348.00,1276.41 L1348.50,1287.56 L1349.00,1277.11 L1349.50,1290.76 L1350.00,1276.89 L1350.50,1291.59 L1351.00,1278.33 L1351.50,1286.12 L1352.00,1278.30 L1352.50,1286.14 L1353.00,1278.48 L1353.50,1286.99 L1354.00,1278.42 L1354.50,1287.16 L1355.00,1277.52 L1355.50,1287.10 L1356.00,1278.19 L1356.50,1286.05 L1357.00,1275.74 L1357.50,1284.53 L1358.00,1276.68 L1358.50,1285.76 L1359.00,1277.50 L1359.50,1286.06 L1360.00,1275.31 L1360.50,1286.59 L1361.00,1277.37 L1361.50,1287.19 L1362.00,1276.34 L1362.50,1287.47 L1363.00,1277.33 L1363.50,1286.36 L1364.00,1278.08 L1364.50,1286.97 L1365.00,1277.71 L1365.50,1285.05 L1366.00,1276.14 L1366.50,1284.95 L1367.00,1276.66 L1367.50,1285.63 L1368.00,1276.49 L1368.50,1292.39 L1369.00,1275.95 L1369.50,1285.93 L1370.00,1276.19 L1370.50,1290.94 L1371.00,1270.58 L1371.50,1287.30 L1372.00,1278.36 L1372.50,1287.69 L1373.00,1277.73 L1373.50,1286.53 L1374.00,1278.31 L1374.50,1292.16 L1375.00,1279.10 L1375.50,1288.71 L1376.00,1278.32 L1376.50,1287.15 L1377.00,1277.01 L1377.50,1286.40 L1378.00,1278.48 L1378.50,1287.78 L1379.00,1278.43 L1379.50,1287.45 L1380.00,1276.33 L1380.50,1286.56 L1381.00,1278.72 L1381.50,1286.75 L1382.00,1277.77 L1382.50,1286.97 L1383.00,1276.32 L1383.50,1285.92 L1384.00,1279.07 L1384.50,1287.33 L1385.00,1278.50 L1385.50,1287.43 L1386.00,1277.30 L1386.50,1288.02 L1387.00,1278.45 L1387.50,1286.39 L1388.00,1277.30 L1388.50,1285.55 L1389.00,1277.12 L1389.50,1285.28 L1390.00,1276.67 L1390.50,1286.15 L1391.00,1276.30 L1391.50,1291.04 L1392.00,1276.09 L1392.50,1285.14 L1393.00,1276.91 L1393.50,1285.39 L1394.00,1278.46 L1394.50,1287.22 L1395.00,1278.98 L1395.50,1285.49 L1396.00,1277.95 L1396.50,1285.80 L1397.00,1277.02 L1397.50,1285.71 L1398.00,1277.23 L1398.50,1285.94 L1399.00,1276.54 L1399.50,1286.14 L1400.00,1275.69 L1400.50,1286.33 L1401.00,1277.08 L1401.50,1288.46 L1402.00,1275.77 L1402.50,1286.02 L1403.00,1277.97 L1403.50,1286.00 L1404.00,1277.79 L1404.50,1289.88 L1405.00,1277.74 L1405.50,1287.84 L1406.00,1279.38 L1406.50,1288.11 L1407.00,1278.89 L1407.50,1288.53 L1408.00,1278.96 L1408.50,1287.24 L1409.00,1278.55 L1409.50,1286.29 L1410.00,1278.26 L1410.50,1287.29 L1411.00,1278.97 L1411.50,1287.36 L1412.00,1277.91 L1412.50,1287.59 L1413.00,1277.80 L1413.50,1287.81 L1414.00,1279.48 L1414.50,1286.15 L1415.00,1277.42 L1415.50,1287.06 L1416.00,1278.08 L1416.50,1286.48 L1417.00,1278.14 L1417.50,1285.06 L1418.00,1272.74 L1418.50,1292.44 L1419.00,1276.57 L1419.50,1286.70 L1420.00,1276.57 L1420.50,1285.33 L1421.00,1275.59 L1421.50,1286.62 L1422.00,1276.55 L1422.50,1285.08 L1423.00,1276.20 L1423.50,1284.58 L1424.00,1276.78 L1424.50,1285.58 L1425.00,1269.71 L1425.50,1286.73 L1426.00,1276.71 L1426.50,1280.77 L1426.60,1263.80 L1426.50,1267.93 L1427.00,1258.74 L1427.50,1268.76 L1428.00,1260.91 L1428.50,1271.83 L1429.00,1263.07 L1429.50,1275.23 L1430.00,1264.89 L1430.50,1276.74 L1431.00,1268.40 L1431.50,1279.02 L1432.00,1269.32 L1432.50,1279.39 L1433.00,1272.12 L1433.50,1281.22 L1434.00,1272.23 L1434.50,1280.29 L1435.00,1271.89 L1435.50,1282.54 L1436.00,1273.95 L1436.50,1281.63 L1437.00,1273.47 L1437.50,1283.75 L1438.00,1274.79 L1438.50,1284.53 L1439.00,1275.32 L1439.50,1286.40 L1440.00,1277.56 L1440.50,1285.76 L1441.00,1276.44 L1441.50,1287.49 L1442.00,1277.42 L1442.50,1286.44 L1443.00,1276.62 L1443.50,1286.30 L1444.00,1277.86 L1444.50,1287.58 L1445.00,1277.87 L1445.50,1288.03 L1446.00,1277.60 L1446.50,1286.42 L1447.00,1278.22 L1447.50,1287.74 L1448.00,1277.78 L1448.50,1287.75 L1449.00,1278.21 L1449.50,1287.48 L1450.00,1276.96 L1450.50,1285.73 L1451.00,1278.36 L1451.50,1285.41 L1452.00,1276.52 L1452.50,1286.92 L1453.00,1276.14 L1453.50,1287.12 L1454.00,1277.74 L1454.50,1285.91 L1455.00,1277.27 L1455.50,1285.29 L1456.00,1277.41 L1456.50,1285.52 L1457.00,1276.66 L1457.50,1286.95 L1458.00,1276.14 L1458.50,1284.43 L1459.00,1277.68 L1459.50,1286.51 L1460.00,1277.30 L1460.50,1288.38 L1461.00,1277.89 L1461.50,1286.56 L1462.00,1278.83 L1462.50,1287.13 L1463.00,1277.16 L1463.50,1286.04 L1464.00,1277.77 L1464.50,1291.49 L1465.00,1276.25 L1465.50,1285.87 L1466.00,1278.63 L1466.50,1286.30 L1467.00,1276.54 L1467.50,1287.29 L1468.00,1278.06 L1468.50,1286.11 L1469.00,1276.98 L1469.50,1285.53 L1470.00,1278.03 L1470.50,1286.60 L1471.00,1277.37 L1471.50,1284.67 L1472.00,1275.04 L1472.50,1285.30 L1473.00,1275.62 L1473.50,1286.19 L1474.00,1276.62 L1474.50,1284.83 L1475.00,1276.33 L1475.50,1286.00 L1476.00,1277.22 L1476.50,1287.50 L1477.00,1277.84 L1477.50,1285.86 L1478.00,1278.29 L1478.50,1287.21 L1479.00,1276.62 L1479.50,1287.19 L1480.00,1278.47 L1480.50,1286.19 L1481.00,1278.34 L1481.50,1285.15 L1482.00,1278.29 L1482.50,1285.78" fill="none" stroke="#000" stroke-width="1.5" stroke-linejoin="miter" stroke-miterlimit="2"/><line x1="931.50" y1="1368.40" x2="931.50" y2="1729.70" stroke="#000" stroke-width="3.2"/><line x1="916.60" y1="1716.30" x2="1452.10" y2="1716.30" stroke="#000" stroke-width="3.2"/><line x1="916.60" y1="1370.90" x2="931.50" y2="1370.90" stroke="#000" stroke-width="3.2"/><line x1="916.60" y1="1543.60" x2="931.50" y2="1543.60" stroke="#000" stroke-width="3.2"/><line x1="916.60" y1="1716.30" x2="931.50" y2="1716.30" stroke="#000" stroke-width="3.2"/><text x="876.82" y="1380.20" font-size="26.41" fill="#000">1.0</text><text x="877.77" y="1553.00" font-size="25.80" fill="#000">0.5</text><text x="877.77" y="1725.60" font-size="25.70" fill="#000">0.0</text><line x1="1104.60" y1="1716.30" x2="1104.60" y2="1732.70" stroke="#000" stroke-width="3.2"/><line x1="1277.70" y1="1716.30" x2="1277.70" y2="1732.70" stroke="#000" stroke-width="3.2"/><line x1="1450.80" y1="1716.30" x2="1450.80" y2="1732.70" stroke="#000" stroke-width="3.2"/><text x="922.82" y="1763.40" font-size="31.00" fill="#000">0</text><text x="1087.32" y="1763.40" font-size="31.00" fill="#000">50</text><text x="1251.27" y="1763.40" font-size="31.00" fill="#000">100</text><text x="1424.37" y="1763.40" font-size="31.00" fill="#000">150</text><text x="1014.19" y="1807.90" font-size="36.84" fill="#000">sIPSC amplitude (pA)</text><text transform="translate(859.30,1706.46) rotate(-90)" x="0" y="0" font-size="33.20" fill="#000">Cumulative probability</text><path d="M944.00,1716.30 C945.83,1716.30 952.45,1716.43 955.00,1716.30 C957.55,1716.17 957.12,1716.68 959.30,1715.50 C961.48,1714.32 965.42,1714.73 968.10,1709.20 C970.78,1703.67 973.20,1692.88 975.40,1682.30 C977.60,1671.72 979.35,1659.12 981.30,1645.70 C983.25,1632.28 985.15,1616.45 987.10,1601.80 C989.05,1587.15 991.03,1571.23 993.00,1557.80 C994.97,1544.37 996.70,1532.68 998.90,1521.20 C1001.10,1509.72 1003.52,1499.17 1006.20,1488.90 C1008.88,1478.63 1012.07,1468.38 1015.00,1459.60 C1017.93,1450.82 1020.38,1443.52 1023.80,1436.20 C1027.22,1428.88 1031.12,1421.80 1035.50,1415.70 C1039.88,1409.60 1044.73,1404.12 1050.10,1399.60 C1055.47,1395.08 1060.85,1391.90 1067.70,1388.60 C1074.55,1385.30 1080.82,1382.00 1091.20,1379.80 C1101.58,1377.60 1111.87,1376.57 1130.00,1375.40 C1148.13,1374.23 1171.67,1373.40 1200.00,1372.80 C1228.33,1372.20 1258.00,1372.07 1300.00,1371.80 C1342.00,1371.53 1426.67,1371.30 1452.00,1371.20" fill="none" stroke="#EB7D22" stroke-width="2.5"/><path d="M940.00,1716.30 C942.00,1716.30 949.27,1716.43 952.00,1716.30 C954.73,1716.17 954.45,1716.47 956.40,1715.50 C958.35,1714.53 961.50,1714.80 963.70,1710.50 C965.90,1706.20 967.65,1699.28 969.60,1689.70 C971.55,1680.12 973.45,1666.43 975.40,1653.00 C977.35,1639.57 979.35,1623.75 981.30,1609.10 C983.25,1594.45 985.15,1579.27 987.10,1565.10 C989.05,1550.93 990.80,1536.80 993.00,1524.10 C995.20,1511.40 997.85,1499.15 1000.30,1488.90 C1002.75,1478.65 1005.02,1471.13 1007.70,1462.60 C1010.38,1454.07 1013.23,1445.28 1016.40,1437.70 C1019.57,1430.12 1023.03,1422.72 1026.70,1417.10 C1030.37,1411.48 1034.00,1408.15 1038.40,1404.00 C1042.80,1399.85 1047.72,1395.50 1053.10,1392.20 C1058.48,1388.90 1064.35,1386.27 1070.70,1384.20 C1077.05,1382.13 1081.32,1381.03 1091.20,1379.80 C1101.08,1378.57 1111.87,1377.68 1130.00,1376.80 C1148.13,1375.92 1171.67,1375.17 1200.00,1374.50 C1228.33,1373.83 1258.00,1373.35 1300.00,1372.80 C1342.00,1372.25 1426.67,1371.47 1452.00,1371.20" fill="none" stroke="#000" stroke-width="2.5"/><line x1="1320.40" y1="1414.00" x2="1359.20" y2="1414.00" stroke="#000" stroke-width="2.5"/><line x1="1320.40" y1="1445.20" x2="1359.20" y2="1445.20" stroke="#EB7D22" stroke-width="2.5"/><text x="1377.73" y="1423.80" font-size="31.30" fill="#000">Control</text><text x="1376.79" y="1456.00" font-size="31.34" fill="#000">MAM</text><line x1="1157.50" y1="1441.50" x2="1157.50" y2="1658.80" stroke="#000" stroke-width="2.8"/><line x1="1150.70" y1="1657.40" x2="1374.00" y2="1657.40" stroke="#000" stroke-width="2.8"/><line x1="1150.70" y1="1441.50" x2="1157.50" y2="1441.50" stroke="#000" stroke-width="2.8"/><line x1="1150.70" y1="1495.47" x2="1157.50" y2="1495.47" stroke="#000" stroke-width="2.8"/><line x1="1150.70" y1="1549.45" x2="1157.50" y2="1549.45" stroke="#000" stroke-width="2.8"/><line x1="1150.70" y1="1603.43" x2="1157.50" y2="1603.43" stroke="#000" stroke-width="2.8"/><line x1="1150.70" y1="1657.40" x2="1157.50" y2="1657.40" stroke="#000" stroke-width="2.8"/><text x="1111.99" y="1450.30" font-size="30.80" fill="#000">40</text><text x="1111.99" y="1504.27" font-size="30.80" fill="#000">30</text><text x="1111.99" y="1558.25" font-size="30.80" fill="#000">20</text><text x="1111.99" y="1612.23" font-size="30.80" fill="#000">10</text><text x="1129.08" y="1666.20" font-size="30.80" fill="#000">0</text><line x1="1211.00" y1="1657.40" x2="1211.00" y2="1662.70" stroke="#000" stroke-width="2.8"/><line x1="1320.00" y1="1657.40" x2="1320.00" y2="1662.70" stroke="#000" stroke-width="2.8"/><polyline points="1176.10,1656.00 1176.10,1547.50 1246.30,1547.50 1246.30,1656.00" fill="none" stroke="#000" stroke-width="2.6" stroke-linejoin="miter"/><polyline points="1284.70,1656.00 1284.70,1541.30 1354.80,1541.30 1354.80,1656.00" fill="none" stroke="#EB7D22" stroke-width="2.6" stroke-linejoin="miter"/><line x1="1211.00" y1="1540.50" x2="1211.00" y2="1555.00" stroke="#000" stroke-width="2.6"/><line x1="1193.50" y1="1540.50" x2="1228.50" y2="1540.50" stroke="#000" stroke-width="2.6"/><line x1="1193.50" y1="1555.00" x2="1228.50" y2="1555.00" stroke="#000" stroke-width="2.6"/><line x1="1320.00" y1="1535.00" x2="1320.00" y2="1548.00" stroke="#EB7D22" stroke-width="2.6"/><line x1="1302.50" y1="1535.00" x2="1337.50" y2="1535.00" stroke="#EB7D22" stroke-width="2.6"/><line x1="1302.50" y1="1548.00" x2="1337.50" y2="1548.00" stroke="#EB7D22" stroke-width="2.6"/><circle cx="1211.00" cy="1451.50" r="4.8" fill="#000"/><circle cx="1192.70" cy="1525.60" r="4.8" fill="#000"/><circle cx="1205.20" cy="1530.10" r="4.8" fill="#000"/><circle cx="1217.70" cy="1530.10" r="4.8" fill="#000"/><circle cx="1202.90" cy="1539.90" r="4.8" fill="#000"/><circle cx="1218.60" cy="1539.90" r="4.8" fill="#000"/><circle cx="1211.90" cy="1548.80" r="4.8" fill="#000"/><circle cx="1180.60" cy="1560.00" r="4.8" fill="#000"/><circle cx="1191.80" cy="1561.40" r="4.8" fill="#000"/><circle cx="1207.40" cy="1560.00" r="4.8" fill="#000"/><circle cx="1220.80" cy="1562.20" r="4.8" fill="#000"/><circle cx="1240.90" cy="1558.70" r="4.8" fill="#000"/><circle cx="1204.30" cy="1571.20" r="4.8" fill="#000"/><circle cx="1217.20" cy="1573.40" r="4.8" fill="#000"/><circle cx="1228.80" cy="1557.80" r="4.8" fill="#000"/><circle cx="1292.30" cy="1521.20" r="4.8" fill="#EB7D22"/><circle cx="1310.10" cy="1525.60" r="4.8" fill="#EB7D22"/><circle cx="1328.00" cy="1522.90" r="4.8" fill="#EB7D22"/><circle cx="1345.90" cy="1519.80" r="4.8" fill="#EB7D22"/><circle cx="1310.10" cy="1531.90" r="4.8" fill="#EB7D22"/><circle cx="1301.20" cy="1546.60" r="4.8" fill="#EB7D22"/><circle cx="1319.10" cy="1543.50" r="4.8" fill="#EB7D22"/><circle cx="1332.50" cy="1542.10" r="4.8" fill="#EB7D22"/><circle cx="1345.90" cy="1540.80" r="4.8" fill="#EB7D22"/><circle cx="1301.20" cy="1560.00" r="4.8" fill="#EB7D22"/><circle cx="1319.10" cy="1561.40" r="4.8" fill="#EB7D22"/><circle cx="1336.90" cy="1564.50" r="4.8" fill="#EB7D22"/><text x="1180.51" y="1646.20" font-size="30.55" fill="#000">15/6</text><text x="1286.41" y="1646.20" font-size="30.49" fill="#000">13/6</text><text x="1161.14" y="1696.20" font-size="31.24" fill="#000">Control</text><text x="1284.03" y="1699.40" font-size="30.88" fill="#000">MAM</text><text transform="translate(1070.90,1699.43) rotate(-90)" x="0" y="0" font-size="30.97" fill="#000">sIPSC amplitude (pA)</text><text transform="translate(7.10,1919.20) scale(0.05857,0.03448)" x="0" y="0" font-size="1000" font-weight="bold" fill="#000" stroke="#000" stroke-width="10.2">i</text><text x="182.28" y="1960.30" font-size="30.96" fill="#000">Tonic</text><text x="789.73" y="1959.90" font-size="30.87" fill="#F29A14">Burst</text><polyline points="459.60,1971.50 459.60,2052.50 519.00,2052.50" fill="none" stroke="#000" stroke-width="3.4" stroke-linejoin="miter"/><text x="364.57" y="2023.70" font-size="30.83" fill="#000">50 mV</text><text x="455.01" y="2098.00" font-size="30.60" fill="#000">100 ms</text><polyline points="30.70,2125.12 32.20,2125.29 33.70,2125.12 35.20,2124.54 36.70,2125.32 38.20,2125.16 39.70,2124.81 41.20,2125.20 42.70,2125.13 44.20,2125.10 45.70,2125.01 47.20,2125.19 48.70,2124.74 50.20,2124.94 51.70,2124.83 53.20,2125.21 54.70,2125.01 56.20,2124.90 57.70,2124.73 59.20,2124.91 60.70,2125.00 62.20,2124.90 63.70,2125.45 65.20,2125.35 66.70,2124.05 68.20,2124.34 69.70,2124.94 71.20,2124.85 72.70,2125.07 74.20,2125.08 75.70,2125.74 77.20,2124.61 78.70,2124.87 80.20,2125.71 81.70,2125.23 83.20,2125.23 84.70,2124.82 86.20,2124.42 87.70,2125.06 89.20,2125.04 90.70,2124.57 91.60,2125.00 92.00,2197.40 92.90,1975.20 93.80,2097.00 94.80,2092.50 96.60,2090.70 97.40,2091.16 98.20,2092.36 99.00,2093.97 99.80,2095.74 100.60,2097.54 101.40,2099.29 102.20,2100.96 103.00,2102.53 103.80,2103.99 104.60,2105.36 105.40,2106.62 106.20,2107.80 107.00,2108.88 107.80,2109.88 108.60,2110.80 109.40,2111.65 110.20,2112.43 111.00,2113.15 111.80,2113.81 112.60,2114.42 113.40,2114.98 114.20,2115.49 115.00,2115.96 115.80,2116.40 116.60,2116.80 117.40,2117.17 118.20,2117.50 119.00,2117.81 119.80,2118.10 120.60,2118.36 121.40,2118.60 122.20,2118.82 122.27,2121.30 122.67,2194.30 123.57,1972.60 124.47,2097.00 125.47,2092.50 127.27,2089.10 128.07,2089.57 128.87,2090.81 129.67,2092.47 130.47,2094.31 131.27,2096.16 132.07,2097.97 132.87,2099.69 133.67,2101.31 134.47,2102.83 135.27,2104.24 136.07,2105.55 136.87,2106.76 137.67,2107.87 138.47,2108.90 139.27,2109.86 140.07,2110.73 140.87,2111.54 141.67,2112.28 142.47,2112.96 143.27,2113.59 144.07,2114.17 144.87,2114.70 145.67,2115.19 146.47,2115.64 147.27,2116.05 148.07,2116.43 148.87,2116.78 149.67,2117.10 150.47,2117.39 151.27,2117.66 152.07,2117.91 152.87,2118.14 152.94,2120.70 153.34,2194.30 154.34,2095.00 155.14,2089.50 156.94,2087.00 157.74,2087.06 158.54,2087.24 159.34,2087.53 160.14,2087.94 160.94,2088.45 161.74,2089.06 162.54,2089.76 163.34,2090.55 164.14,2091.40 164.94,2092.32 165.74,2093.29 166.54,2094.29 167.34,2095.33 168.14,2096.38 168.94,2097.44 169.74,2098.49 170.54,2099.53 171.34,2100.55 172.14,2101.54 172.94,2102.50 173.74,2103.41 174.54,2104.28 175.34,2105.10 176.14,2105.87 176.94,2106.59 177.74,2107.25 178.54,2107.86 179.34,2108.42 180.14,2108.93 180.94,2109.39 181.74,2109.80 182.54,2110.17 183.34,2110.50 183.61,2110.60 184.01,2184.20 184.91,1969.60 185.81,2097.00 186.81,2092.50 188.61,2090.70 189.41,2091.11 190.21,2092.19 191.01,2093.65 191.81,2095.25 192.61,2096.87 193.41,2098.45 194.21,2099.95 195.01,2101.37 195.81,2102.69 196.61,2103.92 197.41,2105.06 198.21,2106.12 199.01,2107.10 199.81,2108.00 200.61,2108.83 201.41,2109.59 202.21,2110.30 203.01,2110.95 203.81,2111.54 204.61,2112.09 205.41,2112.60 206.21,2113.06 207.01,2113.49 207.81,2113.88 208.61,2114.24 209.41,2114.57 210.21,2114.88 211.01,2115.15 211.81,2115.41 212.61,2115.65 213.41,2115.86 214.21,2116.06 214.28,2118.30 214.68,2191.20 215.68,2095.00 216.48,2092.50 218.28,2090.00 219.08,2090.06 219.88,2090.25 220.68,2090.55 221.48,2090.98 222.28,2091.51 223.08,2092.15 223.88,2092.88 224.68,2093.70 225.48,2094.59 226.28,2095.55 227.08,2096.55 227.88,2097.60 228.68,2098.68 229.48,2099.78 230.28,2100.88 231.08,2101.98 231.88,2103.06 232.68,2104.12 233.48,2105.16 234.28,2106.15 235.08,2107.11 235.88,2108.01 236.68,2108.87 237.48,2109.67 238.28,2110.42 239.08,2111.11 239.88,2111.75 240.68,2112.33 241.48,2112.86 242.28,2113.34 243.08,2113.77 243.88,2114.15 244.68,2114.49 244.95,2114.60 245.35,2186.30 246.25,1971.50 247.15,2097.00 248.15,2092.50 249.95,2090.70 250.75,2091.10 251.55,2092.16 252.35,2093.57 253.15,2095.13 253.95,2096.71 254.75,2098.25 255.55,2099.72 256.35,2101.10 257.15,2102.39 257.95,2103.59 258.75,2104.70 259.55,2105.73 260.35,2106.68 261.15,2107.56 261.95,2108.37 262.75,2109.11 263.55,2109.80 264.35,2110.43 265.15,2111.01 265.95,2111.55 266.75,2112.04 267.55,2112.49 268.35,2112.91 269.15,2113.29 269.95,2113.64 270.75,2113.97 271.55,2114.26 272.35,2114.53 273.15,2114.78 273.95,2115.01 274.75,2115.23 275.55,2115.42 275.62,2117.60 276.02,2191.20 277.02,2095.00 277.82,2087.00 279.62,2084.50 280.42,2084.57 281.22,2084.78 282.02,2085.13 282.82,2085.62 283.62,2086.23 284.42,2086.96 285.22,2087.80 286.02,2088.74 286.82,2089.76 287.62,2090.86 288.42,2092.01 289.22,2093.22 290.02,2094.45 290.82,2095.71 291.62,2096.97 292.42,2098.23 293.22,2099.47 294.02,2100.69 294.82,2101.88 295.62,2103.02 296.42,2104.11 297.22,2105.15 298.02,2106.13 298.82,2107.05 299.62,2107.91 300.42,2108.70 301.22,2109.43 302.02,2110.10 302.82,2110.71 303.62,2111.25 304.42,2111.75 305.22,2112.19 306.02,2112.58 306.29,2112.70 306.69,2185.70 307.59,1970.30 308.49,2097.00 309.49,2092.50 311.29,2090.70 312.09,2091.12 312.89,2092.23 313.69,2093.71 314.49,2095.35 315.29,2097.00 316.09,2098.61 316.89,2100.15 317.69,2101.60 318.49,2102.95 319.29,2104.21 320.09,2105.38 320.89,2106.46 321.69,2107.45 322.49,2108.37 323.29,2109.22 324.09,2110.00 324.89,2110.72 325.69,2111.39 326.49,2112.00 327.29,2112.56 328.09,2113.07 328.89,2113.55 329.69,2113.98 330.49,2114.38 331.29,2114.75 332.09,2115.09 332.89,2115.40 333.69,2115.69 334.49,2115.95 335.29,2116.19 336.09,2116.41 336.89,2116.61 336.96,2118.90 337.36,2191.20 338.36,2095.00 339.16,2094.10 340.96,2091.60 341.76,2091.66 342.56,2091.84 343.36,2092.13 344.16,2092.54 344.96,2093.05 345.76,2093.66 346.56,2094.36 347.36,2095.15 348.16,2096.00 348.96,2096.92 349.76,2097.89 350.56,2098.89 351.36,2099.93 352.16,2100.98 352.96,2102.04 353.76,2103.09 354.56,2104.13 355.36,2105.15 356.16,2106.14 356.96,2107.10 357.76,2108.01 358.56,2108.88 359.36,2109.70 360.16,2110.47 360.96,2111.19 361.76,2111.85 362.56,2112.46 363.36,2113.02 364.16,2113.53 364.96,2113.99 365.76,2114.40 366.56,2114.77 367.36,2115.10 367.63,2115.20 368.03,2186.30 369.03,2095.00 369.83,2087.60 371.63,2085.10 372.43,2085.22 373.23,2085.45 374.03,2085.76 374.83,2086.13 375.63,2086.56 376.43,2087.03 377.23,2087.55 378.03,2088.09 378.83,2088.67 379.63,2089.28 380.43,2089.91 381.23,2090.57 382.03,2091.24 382.83,2091.93 383.63,2092.63 384.43,2093.35 385.23,2094.07 386.03,2094.80 386.83,2095.54 387.63,2096.28 388.43,2097.02 389.23,2097.76 390.03,2098.50 390.83,2099.24 391.63,2099.98 392.43,2100.71 393.23,2101.43 394.03,2102.15 394.83,2102.86 395.63,2103.56 396.43,2104.26 397.23,2104.94 398.03,2105.61 398.83,2106.27 399.63,2106.92 400.43,2107.55 401.23,2108.18 402.03,2108.79 402.83,2109.38 403.63,2109.96 404.43,2110.53 405.23,2111.09 406.03,2111.63 406.83,2112.16 407.63,2112.67 408.43,2113.17 409.23,2113.65 410.03,2114.12 410.83,2114.57 411.63,2115.02 412.43,2115.44 413.23,2115.86 414.03,2116.26 414.83,2116.64 415.63,2117.02 416.43,2117.38 417.23,2117.72 418.03,2118.06 418.83,2118.38 419.63,2118.69 420.43,2118.99 421.23,2119.28 422.03,2119.55 422.83,2119.82 423.63,2120.07 424.43,2120.32 425.23,2120.55 426.03,2120.77 426.83,2120.99 427.63,2121.19 428.43,2121.39 429.23,2121.58 430.03,2121.76 430.83,2121.93 431.63,2122.09 432.43,2122.25 433.23,2122.39 434.03,2122.54 434.83,2122.67 435.63,2122.80 436.43,2122.92 437.23,2123.04 438.03,2123.15 438.83,2123.25 439.63,2123.35 440.43,2123.45 441.23,2123.54 442.03,2123.62 442.83,2123.70 443.63,2123.78 444.43,2123.85 445.23,2123.92 446.03,2123.98 446.83,2124.05 447.63,2124.10 448.43,2124.16 449.23,2124.21 450.03,2124.26 450.83,2124.30 451.63,2124.35 452.43,2124.39 453.23,2124.43 454.03,2124.46 454.83,2124.50 455.00,2125.04" fill="none" stroke="#000" stroke-width="2.8" stroke-linejoin="round"/><polyline points="601.50,2140.17 603.00,2139.92 604.50,2139.96 606.00,2139.25 607.50,2140.73 609.00,2140.50 610.50,2139.99 612.00,2140.37 613.50,2140.20 615.00,2139.91 616.50,2140.44 618.00,2139.99 619.50,2139.98 621.00,2139.82 622.50,2140.26 624.00,2140.07 625.50,2140.29 627.00,2139.89 628.50,2140.14 630.00,2139.79 631.50,2140.39 633.00,2140.17 634.50,2140.22 636.00,2140.24 637.50,2139.75 639.00,2140.37 640.50,2140.82 642.00,2139.53 643.50,2139.49 645.00,2139.57 646.50,2140.39 648.00,2140.15 649.50,2140.48 651.00,2140.35 652.50,2140.17 654.00,2140.20 655.50,2140.04 657.00,2140.40 658.50,2139.70 660.00,2139.95 661.50,2140.19 663.00,2140.10 663.40,2186.80 664.30,2139.10 666.40,2136.10 668.30,2097.00 668.90,1960.80 670.30,2075.00 672.00,1975.20 672.90,2088.60 673.60,2085.60 674.60,2086.97 675.40,2088.07 676.20,2090.69 677.00,2093.32 677.80,2095.95 678.60,2098.58 679.40,2101.15 680.20,2103.66 681.00,2106.16 681.80,2108.67 682.60,2111.17 683.40,2113.68 684.20,2115.74 685.00,2117.61 685.80,2119.47 686.60,2121.34 687.40,2123.08 688.20,2124.23 689.00,2125.37 689.80,2126.52 690.60,2127.66 691.40,2128.31 692.20,2128.90 693.00,2129.48 693.70,2130.00 694.10,2177.60 695.00,2129.00 697.10,2126.00 697.40,2097.00 698.00,1960.80 699.80,2072.00 702.00,1976.10 702.90,2085.50 703.60,2082.50 704.60,2084.02 705.40,2085.24 706.20,2088.13 707.00,2091.04 707.80,2093.95 708.60,2096.86 709.40,2099.70 710.20,2102.47 711.00,2105.24 711.80,2108.01 712.60,2110.78 713.40,2113.55 714.20,2115.83 715.00,2117.90 715.80,2119.96 716.60,2122.02 717.40,2123.95 718.20,2125.22 719.00,2126.48 719.80,2127.75 720.60,2129.01 721.40,2129.73 722.20,2130.38 723.00,2131.03 723.70,2131.60 724.10,2179.10 725.00,2130.60 725.64,2129.61 726.30,2117.31 726.96,2107.62 727.62,2102.87 728.27,2098.12 728.93,2095.48 729.59,2093.93 730.25,2092.48 730.70,2092.26 731.20,1962.00 731.90,2094.26 730.90,2092.17 731.56,2091.86 731.90,2091.70 732.90,2092.82 733.70,2093.71 734.50,2095.41 735.30,2097.54 736.10,2099.68 736.90,2101.81 737.70,2103.95 738.50,2106.04 739.30,2108.07 740.10,2110.10 740.90,2112.13 741.70,2114.16 742.50,2116.20 743.30,2118.23 744.10,2119.84 744.90,2121.35 745.70,2122.87 746.50,2124.38 747.30,2125.89 748.10,2127.05 748.90,2127.97 749.70,2128.90 750.50,2129.83 751.30,2130.76 752.10,2131.37 752.90,2131.85 753.70,2132.32 754.50,2132.80 755.00,2133.10 755.40,2180.70 756.30,2132.10 756.94,2131.26 757.60,2119.92 758.26,2110.98 758.92,2106.60 759.57,2102.23 760.23,2099.78 760.89,2098.36 761.55,2097.02 762.20,2096.73 762.86,2096.45 763.20,2096.30 764.20,2097.43 765.00,2098.34 765.80,2100.24 766.60,2102.41 767.40,2104.58 768.20,2106.75 769.00,2108.92 769.80,2111.00 770.60,2113.07 771.40,2115.13 772.20,2117.20 773.00,2119.27 773.80,2121.33 774.60,2123.10 775.40,2124.64 776.20,2126.18 777.00,2127.72 777.80,2129.25 778.60,2130.41 779.40,2131.36 780.20,2132.30 781.00,2133.24 781.80,2134.19 782.60,2134.68 783.40,2135.17 784.20,2135.65 785.00,2136.14 785.10,2136.20 785.50,2183.70 786.40,2135.20 787.04,2134.20 787.70,2121.91 788.36,2112.22 789.02,2107.47 789.67,2102.72 790.33,2100.08 790.99,2098.53 791.65,2097.08 792.30,2096.77 792.96,2096.46 793.30,2096.30 794.30,2097.37 795.10,2098.22 795.90,2099.94 796.70,2101.98 797.50,2104.02 798.30,2106.07 799.10,2108.11 799.90,2110.08 800.70,2112.03 801.50,2113.97 802.30,2115.91 803.10,2117.86 803.90,2119.80 804.70,2121.62 805.50,2123.07 806.30,2124.52 807.10,2125.96 807.90,2127.41 808.70,2128.74 809.50,2129.63 810.30,2130.52 811.10,2131.40 811.90,2132.29 812.70,2132.99 813.50,2133.44 814.30,2133.90 815.10,2134.36 815.70,2134.70 816.10,2182.20 817.00,2133.70 817.64,2133.24 818.30,2124.24 818.96,2117.15 819.62,2113.68 820.27,2110.20 820.93,2108.26 821.59,2107.14 822.25,2106.07 822.90,2105.84 823.56,2105.62 823.90,2105.50 824.90,2106.35 825.70,2107.03 826.50,2108.39 827.30,2110.01 828.10,2111.64 828.90,2113.26 829.70,2114.89 830.50,2116.46 831.30,2118.01 832.10,2119.56 832.90,2121.10 833.70,2122.65 834.50,2124.20 835.30,2125.67 836.10,2126.82 836.90,2127.98 837.70,2129.13 838.50,2130.28 839.30,2131.38 840.10,2132.08 840.90,2132.79 841.70,2133.50 842.50,2134.20 843.30,2134.79 844.10,2135.15 844.90,2135.52 845.70,2135.88 846.40,2136.20 846.80,2182.20 847.70,2135.20 848.34,2134.05 849.00,2120.84 849.66,2110.42 850.32,2105.31 850.97,2100.21 851.63,2097.36 852.29,2095.70 852.95,2094.14 853.60,2093.80 854.26,2093.47 854.60,2093.30 855.60,2094.36 856.40,2095.21 857.20,2096.90 858.00,2098.93 858.80,2100.96 859.60,2102.98 860.40,2105.01 861.20,2106.98 862.00,2108.91 862.80,2110.84 863.60,2112.77 864.40,2114.70 865.20,2116.63 866.00,2118.46 866.80,2119.90 867.60,2121.34 868.40,2122.78 869.20,2124.21 870.00,2125.58 870.80,2126.46 871.60,2127.34 872.40,2128.23 873.20,2129.11 874.00,2129.84 874.80,2130.29 875.60,2130.75 876.40,2131.20 877.10,2131.60 877.50,2177.60 878.40,2130.60 879.04,2129.57 879.70,2117.10 880.36,2107.26 881.02,2102.44 881.67,2097.62 882.33,2094.93 882.99,2093.37 883.65,2091.89 884.30,2091.58 884.60,2091.43 885.10,1962.00 885.80,2093.43 884.96,2091.26 885.30,2091.10 886.30,2092.22 887.10,2093.12 887.90,2094.94 888.70,2097.09 889.50,2099.25 890.30,2101.40 891.10,2103.55 891.90,2105.64 892.70,2107.69 893.50,2109.74 894.30,2111.79 895.10,2113.84 895.90,2115.89 896.70,2117.81 897.50,2119.33 898.30,2120.86 899.10,2122.39 899.90,2123.91 900.70,2125.32 901.50,2126.25 902.30,2127.19 903.10,2128.12 903.90,2129.06 904.70,2129.79 905.50,2130.27 906.30,2130.76 907.10,2131.24 907.70,2131.60 908.10,2176.00 909.00,2130.60 909.64,2129.68 910.30,2117.88 910.96,2108.58 911.62,2104.02 912.27,2099.47 912.93,2096.93 913.59,2095.44 914.25,2094.05 914.90,2093.75 915.56,2093.45 915.90,2093.30 916.90,2094.31 917.70,2095.13 918.50,2096.75 919.30,2098.69 920.10,2100.64 920.90,2102.58 921.70,2104.52 922.50,2106.40 923.30,2108.25 924.10,2110.10 924.90,2111.95 925.70,2113.80 926.50,2115.65 927.30,2117.41 928.10,2118.79 928.90,2120.17 929.70,2121.55 930.50,2122.92 931.30,2124.23 932.10,2125.08 932.90,2125.92 933.70,2126.77 934.50,2127.61 935.30,2128.31 936.10,2128.75 936.90,2129.18 937.70,2129.62 938.40,2130.00 938.80,2174.50 939.70,2129.00 940.34,2128.01 941.00,2115.75 941.66,2106.08 942.32,2101.34 942.97,2096.61 943.63,2093.97 943.80,2093.57 944.30,1962.90 945.00,2095.57 944.29,2092.43 944.95,2090.97 945.60,2090.67 946.26,2090.36 946.60,2090.20 947.60,2090.92 948.40,2091.49 949.20,2092.07 950.00,2092.64 950.80,2094.09 951.60,2095.62 952.40,2097.16 953.20,2098.69 954.00,2100.22 954.80,2101.76 955.60,2103.41 956.40,2105.25 957.20,2107.09 958.00,2108.93 958.80,2110.77 959.60,2112.61 960.40,2114.45 961.20,2116.29 962.00,2118.02 962.80,2119.43 963.60,2120.84 964.40,2122.25 965.20,2123.66 966.00,2125.07 966.80,2126.48 967.60,2127.89 968.40,2129.21 969.20,2129.95 970.00,2130.69 970.80,2131.42 971.60,2132.16 972.40,2132.89 973.20,2133.63 974.00,2134.36 974.80,2135.10 975.60,2135.84 976.40,2136.57 977.20,2137.16 978.00,2137.34 978.80,2137.52 979.60,2137.71 980.40,2137.89 981.20,2138.08 982.00,2138.26 982.80,2138.44 983.60,2138.63 984.40,2138.81 985.20,2139.00 986.00,2139.18 986.80,2139.36 987.60,2139.55 988.40,2139.73 989.20,2139.92 990.00,2140.10 988.00,2140.81 989.50,2139.21 991.00,2140.25 992.50,2139.90 994.00,2139.94 995.50,2140.02 997.00,2139.39 998.50,2140.02 1000.00,2139.80 1001.50,2141.26 1003.00,2140.18 1004.50,2139.98 1006.00,2140.00 1007.50,2139.87 1009.00,2139.73 1010.50,2139.96 1012.00,2140.27 1013.50,2140.02 1015.00,2140.44 1016.50,2140.03 1018.00,2140.11 1019.50,2140.64 1021.00,2140.29 1022.50,2139.92 1024.00,2140.04 1025.50,2140.29 1027.00,2140.78" fill="none" stroke="#F29A14" stroke-width="2.9" stroke-linejoin="round"/><line x1="159.50" y1="2196.50" x2="429.30" y2="2223.10" stroke="#999" stroke-width="0.8"/><line x1="159.50" y1="2196.50" x2="167.10" y2="2197.25" stroke="#000" stroke-width="3"/><line x1="184.00" y1="2198.92" x2="220.80" y2="2202.54" stroke="#000" stroke-width="3"/><line x1="257.60" y1="2206.17" x2="294.40" y2="2209.80" stroke="#000" stroke-width="3"/><line x1="331.20" y1="2213.43" x2="368.00" y2="2217.06" stroke="#000" stroke-width="3"/><line x1="404.80" y1="2220.68" x2="412.50" y2="2221.44" stroke="#000" stroke-width="3"/><line x1="421.70" y1="2222.35" x2="429.30" y2="2223.10" stroke="#000" stroke-width="3"/><line x1="92.00" y1="2199.50" x2="81.30" y2="2202.87" stroke="#000" stroke-width="3"/><line x1="67.50" y1="2207.21" x2="46.00" y2="2213.98" stroke="#000" stroke-width="3"/><line x1="39.90" y1="2215.90" x2="30.70" y2="2218.80" stroke="#000" stroke-width="3"/><line x1="724.70" y1="2186.20" x2="994.00" y2="2213.80" stroke="#999" stroke-width="0.8"/><line x1="724.70" y1="2186.20" x2="733.30" y2="2187.08" stroke="#000" stroke-width="3"/><line x1="750.20" y1="2188.81" x2="787.00" y2="2192.58" stroke="#000" stroke-width="3"/><line x1="823.80" y1="2196.36" x2="860.60" y2="2200.13" stroke="#000" stroke-width="3"/><line x1="897.40" y1="2203.90" x2="934.20" y2="2207.67" stroke="#000" stroke-width="3"/><line x1="971.00" y1="2211.44" x2="978.70" y2="2212.23" stroke="#000" stroke-width="3"/><line x1="986.30" y1="2213.01" x2="994.00" y2="2213.80" stroke="#000" stroke-width="3"/><line x1="662.80" y1="2190.50" x2="652.10" y2="2193.87" stroke="#000" stroke-width="3"/><line x1="638.30" y1="2198.21" x2="616.80" y2="2204.98" stroke="#000" stroke-width="3"/><line x1="610.70" y1="2206.90" x2="601.50" y2="2209.80" stroke="#000" stroke-width="3"/><polyline points="123.30,2242.90 123.30,2324.20 219.30,2324.20" fill="none" stroke="#000" stroke-width="2.8" stroke-linejoin="miter"/><text x="19.68" y="2297.50" font-size="30.58" fill="#000">50 mV</text><text x="133.66" y="2354.90" font-size="31.02" fill="#000">50 ms</text><polyline points="39.30,2383.77 40.80,2383.94 42.30,2384.58 43.80,2384.23 45.30,2383.43 46.80,2384.00 48.30,2383.78 49.80,2384.05 51.30,2383.44 52.80,2384.08 54.30,2384.08 55.80,2384.55 57.30,2384.11 58.80,2384.18 60.30,2383.48 61.80,2384.79 63.30,2383.33 64.80,2384.39 66.30,2383.88 67.80,2383.69 69.30,2383.77 70.80,2383.76 72.30,2384.13 73.80,2383.96 75.30,2384.52 76.80,2383.36 78.30,2384.00 79.80,2383.69 81.30,2384.27 82.80,2383.26 84.30,2383.88 85.80,2384.07 87.30,2383.48 88.80,2384.34 90.30,2384.06 91.80,2384.35 93.30,2384.34 94.80,2383.66 96.30,2383.72 97.80,2383.93 99.30,2384.26 100.80,2384.30 102.30,2383.75 103.80,2383.79 105.30,2383.72 106.80,2383.80 108.30,2383.92 109.80,2383.95 111.30,2384.72 112.80,2383.82 114.30,2383.90 115.80,2384.16 117.30,2383.67 118.80,2383.87 120.30,2384.00 121.80,2384.27 123.30,2383.54 124.80,2384.48 126.30,2383.88 127.80,2384.06 129.30,2384.30 130.80,2384.23 132.30,2384.37 133.80,2384.06 135.30,2383.99 136.80,2384.11 138.30,2383.65 139.80,2384.42 141.30,2383.73 142.80,2383.56 144.30,2384.72 145.80,2383.95 147.30,2383.59 148.80,2384.65 150.30,2383.88 151.80,2384.37 153.30,2383.71 154.80,2383.91 156.30,2383.41 157.80,2383.33 159.30,2383.66 160.80,2383.97 162.30,2384.28 163.80,2384.85 165.30,2383.64 166.80,2384.35 168.30,2383.79 169.80,2383.95 171.30,2383.48 172.80,2383.48 174.30,2383.73 175.80,2383.58 177.30,2384.00 178.80,2383.75 180.30,2384.44 181.80,2384.05 183.30,2384.06 184.80,2384.40 186.30,2384.18 187.80,2383.99 189.30,2383.97 190.80,2383.96 192.30,2384.38 193.80,2384.27 195.30,2384.13 196.80,2384.28 198.30,2383.81 199.80,2384.18 201.30,2383.51 202.80,2384.47 204.30,2384.03 205.80,2384.06 207.30,2384.21 208.80,2384.00 210.30,2383.91 211.80,2384.42 213.30,2384.04 214.80,2383.68 216.30,2384.15 217.80,2383.40 219.30,2384.58 220.80,2383.94 222.30,2384.02 223.80,2384.79 225.30,2384.75 226.80,2384.04 228.30,2384.22 229.80,2384.38 231.30,2384.59 232.80,2383.95 234.30,2384.05 234.60,2384.00 235.50,2460.00 236.60,2386.00 238.30,2380.00 242.30,2233.10 244.70,2355.80 246.20,2352.00 249.90,2350.30 251.00,2351.38 252.50,2352.79 254.00,2354.13 255.50,2355.41 257.00,2356.62 258.50,2357.78 260.00,2358.88 261.50,2359.92 263.00,2360.91 264.50,2361.86 266.00,2362.76 267.50,2363.61 269.00,2364.43 270.50,2365.20 272.00,2365.94 273.50,2366.64 275.00,2367.31 276.50,2367.94 278.00,2368.54 279.50,2369.12 281.00,2369.66 282.50,2370.18 284.00,2370.67 285.50,2371.14 287.00,2371.59 288.50,2372.01 290.00,2372.42 291.50,2372.80 293.00,2373.17 294.50,2373.52 296.00,2373.85 297.50,2374.16 299.00,2374.46 300.50,2374.75 302.00,2375.02 303.50,2375.27 305.00,2375.52 306.50,2375.75 308.00,2375.97 309.50,2376.19 311.00,2376.39 312.50,2376.58 314.00,2376.76 315.50,2376.93 317.00,2377.10 318.50,2377.25 320.00,2377.40 321.50,2377.54 323.00,2377.68 324.50,2377.80 326.00,2377.93 327.50,2378.04 329.00,2378.15 330.50,2378.26 332.20,2380.30 332.90,2453.00 333.80,2382.00 335.50,2378.00 339.50,2230.70 341.90,2353.30 343.30,2351.00 346.50,2349.60 348.00,2350.92 349.50,2352.19 351.00,2353.39 352.50,2354.54 354.00,2355.64 355.50,2356.69 357.00,2357.68 358.50,2358.64 360.00,2359.55 361.50,2360.41 363.00,2361.24 364.50,2362.03 366.00,2362.79 367.50,2363.51 369.00,2364.19 370.50,2364.85 372.00,2365.47 373.50,2366.07 375.00,2366.64 376.50,2367.18 378.00,2367.70 379.50,2368.20 381.00,2368.67 382.50,2369.12 384.00,2369.55 385.50,2369.96 387.00,2370.35 388.50,2370.72 390.00,2371.08 391.50,2371.42 393.00,2371.74 394.50,2372.05 396.00,2372.35 397.50,2372.63 399.00,2372.90 400.50,2373.15 402.00,2373.40 403.50,2373.63 405.00,2373.86 406.50,2374.07 408.00,2374.27 409.50,2374.46 411.00,2374.65 412.50,2374.83 414.00,2374.99 415.50,2375.15 417.00,2375.31 418.50,2375.45 420.00,2375.59 421.50,2375.73 423.00,2375.85 424.50,2375.97 426.00,2376.09" fill="none" stroke="#000" stroke-width="2.8" stroke-linejoin="round"/><polyline points="691.90,2238.30 691.90,2319.00 789.10,2319.00" fill="none" stroke="#000" stroke-width="2.8" stroke-linejoin="miter"/><text x="588.57" y="2292.00" font-size="30.83" fill="#000">50 mV</text><text x="702.96" y="2350.30" font-size="30.91" fill="#000">50 ms</text><polyline points="599.90,2392.32 601.40,2392.14 602.90,2392.51 604.40,2392.75 605.90,2393.00 607.40,2392.64 608.90,2392.41 610.40,2392.33 611.90,2392.86 613.40,2393.17 614.90,2392.70 616.40,2392.17 617.90,2392.26 619.40,2393.16 620.90,2392.67 622.40,2391.99 623.90,2392.57 625.40,2392.19 626.90,2392.38 628.40,2392.43 629.90,2392.35 631.40,2392.79 632.90,2392.58 634.40,2392.39 635.90,2392.74 637.40,2392.89 638.90,2392.02 640.40,2392.51 641.90,2392.26 643.40,2392.54 644.90,2392.15 646.40,2392.61 647.90,2392.59 649.40,2392.49 650.90,2392.23 652.40,2392.46 653.90,2392.22 655.40,2392.13 656.90,2392.68 658.40,2392.21 659.90,2393.01 661.40,2392.85 662.90,2391.90 664.40,2392.70 665.90,2392.21 667.40,2392.61 668.90,2392.62 670.40,2391.90 671.90,2392.52 673.40,2392.51 674.90,2392.94 676.40,2392.19 677.90,2392.86 679.40,2392.22 680.90,2392.48 682.40,2392.31 683.90,2393.11 685.40,2392.80 686.90,2393.45 688.40,2392.82 689.90,2392.90 691.40,2392.89 692.90,2392.39 694.40,2392.58 695.90,2393.07 697.40,2392.46 698.90,2392.67 700.40,2392.59 701.90,2392.81 703.40,2392.47 704.90,2392.55 706.40,2392.68 707.90,2392.64 709.40,2392.30 710.90,2392.91 712.40,2392.15 713.90,2392.18 715.40,2392.15 716.90,2392.94 718.40,2392.47 719.90,2392.26 721.40,2392.20 722.90,2392.75 724.40,2392.23 725.90,2392.15 727.40,2392.81 728.90,2392.18 730.40,2392.49 731.90,2392.60 733.40,2392.44 734.90,2392.58 736.40,2393.07 737.90,2392.42 739.40,2392.16 740.90,2391.96 742.40,2392.53 743.90,2392.48 745.40,2392.69 746.90,2392.44 748.40,2392.43 749.90,2392.35 751.40,2392.42 752.90,2392.66 754.40,2392.47 755.90,2392.64 757.40,2393.27 758.90,2392.77 760.40,2392.05 761.90,2393.21 763.40,2392.72 764.90,2392.27 766.40,2392.92 767.90,2392.61 769.40,2392.38 770.90,2392.38 772.40,2392.25 773.90,2392.62 775.40,2392.97 776.90,2392.49 778.40,2392.75 779.90,2393.26 781.40,2392.17 782.90,2392.69 784.40,2392.49 785.90,2392.23 787.40,2392.24 788.90,2392.59 790.40,2392.75 791.90,2392.41 793.40,2392.62 794.70,2392.60 795.60,2439.20 796.80,2394.00 800.80,2391.70 804.00,2380.00 808.50,2356.40 811.00,2336.00 812.40,2213.80 814.30,2300.00 816.10,2348.70 820.00,2340.00 822.30,2334.90 823.80,2227.60 825.50,2300.00 826.90,2333.40 831.50,2336.50 839.10,2341.10 849.90,2351.80 865.20,2367.10 876.00,2374.50 886.70,2379.40 892.20,2381.50 893.40,2430.00 894.60,2385.00 897.40,2383.40 901.00,2370.00 903.50,2353.30 905.70,2347.20 907.50,2213.80 909.40,2300.00 911.20,2347.20 915.00,2337.00 917.30,2331.90 919.80,2229.10 922.00,2300.00 925.00,2331.90 935.70,2341.10 948.00,2356.40 966.40,2373.30 987.90,2383.40" fill="none" stroke="#F29A14" stroke-width="2.7" stroke-linejoin="round"/><text transform="translate(1024.51,1919.21) scale(0.04711,0.03422)" x="0" y="0" font-size="1000" font-weight="bold" fill="#000" stroke="#000" stroke-width="12.7">j</text><rect x="1141.60" y="1941.40" width="35.20" height="22.40" fill="#A0A0A0" stroke="none" stroke-width="0"/><rect x="1324.00" y="1941.40" width="35.20" height="22.40" fill="#F5BA80" stroke="none" stroke-width="0"/><text x="1196.94" y="1963.20" font-size="33.10" fill="#000">Tonic</text><text x="1377.43" y="1963.20" font-size="32.07" fill="#000">Burst</text><rect x="1218.40" y="2048.00" width="92.80" height="326.40" fill="#A0A0A0" stroke="none" stroke-width="0"/><rect x="1358.60" y="2116.54" width="92.80" height="257.86" fill="#A0A0A0" stroke="none" stroke-width="0"/><rect x="1358.60" y="2048.00" width="92.80" height="68.54" fill="#F5BA80" stroke="none" stroke-width="0"/><line x1="1172.00" y1="2046.50" x2="1172.00" y2="2375.90" stroke="#000" stroke-width="3.2"/><line x1="1157.60" y1="2374.40" x2="1500.00" y2="2374.40" stroke="#000" stroke-width="3.2"/><line x1="1157.60" y1="2048.00" x2="1172.00" y2="2048.00" stroke="#000" stroke-width="3.2"/><line x1="1157.60" y1="2113.28" x2="1172.00" y2="2113.28" stroke="#000" stroke-width="3.2"/><line x1="1157.60" y1="2178.56" x2="1172.00" y2="2178.56" stroke="#000" stroke-width="3.2"/><line x1="1157.60" y1="2243.84" x2="1172.00" y2="2243.84" stroke="#000" stroke-width="3.2"/><line x1="1157.60" y1="2309.12" x2="1172.00" y2="2309.12" stroke="#000" stroke-width="3.2"/><line x1="1157.60" y1="2374.40" x2="1172.00" y2="2374.40" stroke="#000" stroke-width="3.2"/><text x="1103.48" y="2059.80" font-size="30.87" fill="#000">100</text><text x="1121.01" y="2123.98" font-size="30.50" fill="#000">80</text><text x="1121.01" y="2189.26" font-size="30.50" fill="#000">60</text><text x="1121.01" y="2254.54" font-size="30.50" fill="#000">40</text><text x="1121.01" y="2319.82" font-size="30.50" fill="#000">20</text><text x="1137.94" y="2385.10" font-size="30.50" fill="#000">0</text><line x1="1264.80" y1="2374.40" x2="1264.80" y2="2388.80" stroke="#000" stroke-width="3.2"/><line x1="1404.60" y1="2374.40" x2="1404.60" y2="2388.80" stroke="#000" stroke-width="3.2"/><text x="1233.42" y="2361.60" font-size="31.59" fill="#000">21/6</text><text x="1373.46" y="2361.60" font-size="31.15" fill="#000">19/6</text><polyline points="1268.00,2041.60 1268.00,2025.60 1405.60,2025.60 1405.60,2041.60" fill="none" stroke="#000" stroke-width="2.7"/><text transform="translate(1312.28,2030.03) scale(0.03462,0.03657)" x="0" y="0" font-size="1000" fill="#000">****</text><text x="1214.19" y="2419.20" font-size="32.27" fill="#000">Control</text><text x="1366.18" y="2419.20" font-size="32.72" fill="#000">MAM</text><text transform="translate(1080.90,2399.33) rotate(-90)" x="0" y="0" font-size="31.57" fill="#000">Percentage of neurons (%)</text>
</svg></body></html>
